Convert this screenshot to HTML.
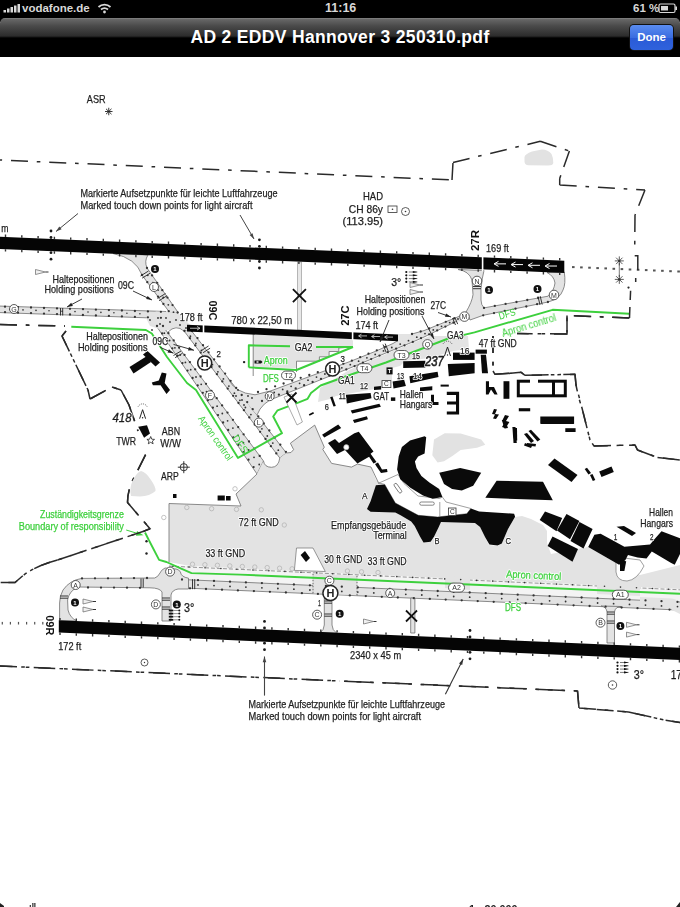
<!DOCTYPE html>
<html><head><meta charset="utf-8">
<style>
html,body{margin:0;padding:0;background:#fff;}
body{width:680px;height:907px;overflow:hidden;position:relative;font-family:"Liberation Sans",sans-serif;}
#status{position:absolute;left:0;top:0;width:680px;height:22px;background:#000;color:#d8d8d8;font-size:12.5px;font-weight:bold;}
#status svg{position:absolute;}
#nav{position:absolute;left:0;top:18px;width:680px;height:39px;background:linear-gradient(#858585 0px,#666 1.5px,#4a4a4a 8px,#2c2c2c 18px,#000 20px,#000 39px);border-radius:5px 5px 0 0;}
#title{position:absolute;left:0;top:-1px;width:680px;text-align:center;color:#fff;font-weight:bold;font-size:17.5px;letter-spacing:0.33px;line-height:40px;}
#done{position:absolute;left:630px;top:7px;width:43px;height:25px;border-radius:4px;background:linear-gradient(#5a8cf0,#3a6de0 50%,#2a5bd6 51%,#2f62dc);color:#fff;font-weight:bold;font-size:11.5px;line-height:25px;text-align:center;box-shadow:0 0 0 1px #111;}
#map{position:absolute;left:0;top:0;}
</style></head>
<body>
<svg id="map" width="680" height="907" viewBox="0 0 680 907" font-family="Liberation Sans, sans-serif">
<g fill="#e3e3e3" stroke="#6e6e6e" stroke-width="0.8">
<path d="M-2,306 L166,311.5 L166,318.5 L-2,312.5 Z"/>
<path d="M113,253.5 Q136,258 142,275 L170,313 L178.5,313 L147,268 Q144,261 148,255 Z"/>
<path d="M155.7,325 L162,325 L263.5,461 L257,474 Z"/>
<path d="M183.3,330 L190.8,330 L286.4,453 L279.8,458 Z"/>
<path d="M458,269.5 Q469,271 472,280 L473,294.7 Q472,302 466,312 L470,320 L483.2,315.3 L548,302 Q560,299 563,290 Q566,284 564.3,272 L547,272.5 Q554,276 555,283 Q554,291 548,296.2 L484,307.9 Q481,305 481,300 L481,288.8 Q482,278 484,270.5 Z"/>
</g>
<path d="M226,378 Q234,393 255,394.8 L271,390.8 L350,361.5 L375,351.5 L393,343.5 L398,340.5 L398,334 L412,334 L424,330.6 L460,316 L466,321 L456,321.5 L424,337 L415,341 L393,350 L350,368 L276,397.6 Q262,402 257,415 Z" fill="#e3e3e3"/>
<path d="M228,378 Q234,393 255,394.8 L271,390.8 L350,361.5 L375,351.5 L393,343.5 L398,340.5 M412,334 L424,330.6 L460,316 M257,415 Q262,402 276,397.6 L350,368 L393,350 L415,341 L424,337 L456,321.5" fill="none" stroke="#6e6e6e" stroke-width="0.8"/>
<path d="M146.0,318.0 L156.0,311.5 L178.0,312.5 L187.0,322.0 L197.0,331.0 L190.0,331.0 L182.0,329.0 L176.0,327.0 L170.0,330.0 L163.0,330.0 L150.0,326.0 Z" fill="#e3e3e3" />
<path d="M168,332 Q176,324 184,331" fill="none" stroke="#6e6e6e" stroke-width="0.8"/>
<path d="M253.0,333.5 L353.0,338.0 L353.0,347.0 L338.8,348.0 L338.8,351.5 L329.1,351.5 L329.1,356.8 L319.4,356.8 L319.4,361.2 L296.5,361.2 L296.5,368.0 L253.0,367.4 Z" fill="#e3e3e3" />
<path d="M253.2,334.0 L253.2,376.0" fill="none" stroke="#6e6e6e" stroke-width="0.8" />
<path d="M353.0,347.0 L338.8,348.0 L338.8,351.5 L329.1,351.5 L329.1,356.8 L319.4,356.8 L319.4,361.2 L296.5,361.2 L296.5,372.0" fill="none" stroke="#6e6e6e" stroke-width="0.8" />
<path d="M318.0,402.0 L320.0,388.0 L350.0,369.5 L393.0,351.0 L415.0,342.0 L430.0,336.0 L468.0,336.0 L469.0,349.0 L453.0,351.0 L430.0,358.0 L405.0,361.0 L400.0,366.0 L392.0,368.0 L392.0,380.0 L380.0,388.0 L347.0,394.0 L336.0,396.0 L330.0,399.0 Z" fill="#e3e3e3" />
<path d="M169.0,503.5 L241.0,506.0 L236.0,494.0 L257.0,474.0 L263.5,461.0 L264.5,464.0 L267.0,466.3 L271.5,467.3 L276.0,466.3 L278.8,463.5 L279.8,458.0 L286.4,453.0 L291.0,452.5 L293.6,449.6 L290.4,443.2 L314.7,425.1 L324.3,447.2 L322.8,449.4 L331.6,463.4 L351.5,467.1 L357.4,464.1 L371.0,467.0 L376.0,480.0 L385.0,486.0 L395.0,505.0 L418.0,517.0 L437.0,519.0 L466.0,516.0 L472.0,512.0 L480.0,514.0 L514.0,516.0 L485.0,537.0 L489.0,545.0 L498.0,546.0 L502.0,543.0 L508.0,529.0 L515.0,517.0 L522.0,516.0 L531.0,519.0 L543.0,525.0 L547.0,531.0 L547.0,543.0 L551.0,554.0 L588.0,547.0 L620.0,565.0 L640.0,575.0 L680.0,565.0 L680.0,589.0 L540.0,582.5 L420.0,577.0 L280.0,570.4 L190.0,566.0 L169.0,562.0 Z" fill="#e3e3e3" />
<path d="M169.0,562.0 L169.0,503.5 L241.0,506.0 L236.0,494.0 L257.0,474.0" fill="none" stroke="#6e6e6e" stroke-width="0.8" />
<path d="M263.5,461 Q264.5,467.3 271.5,467.3 Q278.5,467.3 279.8,458" fill="none" stroke="#6e6e6e" stroke-width="0.8"/>
<path d="M286.4,453.0 L291.0,452.5 L293.6,449.6 L290.4,443.2 L314.7,425.1 L324.3,447.2 L322.8,449.4 L331.6,463.4 L351.5,467.1 L357.4,464.1 L371.0,467.0 L379.0,484.0" fill="none" stroke="#6e6e6e" stroke-width="0.8" />
<path d="M169.0,565.1 L680.0,589.8 L680.0,602.0 L169.0,578.9 Z" fill="#f4f4f4" />
<path d="M169.0,566.1 L680.0,589.8" fill="none" stroke="#6e6e6e" stroke-width="0.7" stroke-dasharray="4,2"/>
<path d="M182.0,579.5 L680.0,602.0 L680.0,610.1 L182.0,587.9 Z" fill="#e3e3e3" />
<path d="M182.0,579.5 L680.0,602.0" fill="none" stroke="#6e6e6e" stroke-width="0.8" />
<path d="M182.0,587.9 L680.0,610.1" fill="none" stroke="#6e6e6e" stroke-width="0.8" />
<path d="M188.5,578.2 Q181,577 180.4,572 Q179,569.4 176,569 L165,568 Q161,570 160,573 Q158,577 154.7,578 L82,578.4 Q70,580 63,590 Q59.6,596 59.6,603 L59.6,621 L77,621 Q70,618 68,610 L67.6,600 Q69,591 78,587 L150,587.8 Q160,588 162,592 L162,621 L171,621 L171,595 Q172,590 178,589 L188.5,589 Z" fill="#e3e3e3" stroke="#6e6e6e" stroke-width="0.8"/>
<path d="M318,592 Q323,593 324.3,597 L324.3,625 Q324,630 320,633 L337,633.5 Q332,630 332,625 L332,597 Q333,593 338,592 Z" fill="#e3e3e3" stroke="#6e6e6e" stroke-width="0.8"/>
<path d="M313.0,573.8 L357.0,575.8 L357.0,595.2 L313.0,593.2 Z" fill="#e3e3e3" />
<path d="M313.0,573.8 L313.0,593.7" fill="none" stroke="#444" stroke-width="0.8" stroke-dasharray="1.5,1.5"/>
<path d="M357.0,575.8 L357.0,595.7" fill="none" stroke="#444" stroke-width="0.8" stroke-dasharray="1.5,1.5"/>
<path d="M410.7,598.0 L414.9,598.0 L414.9,633.0 L410.7,633.0 Z" fill="#e3e3e3" stroke="#6e6e6e" stroke-width="0.8"/>
<path d="M601,606 Q606.5,607 607,612 L607,643 L614.5,643 L614.5,612 Q615,607 621,606.5 Z" fill="#e3e3e3" stroke="#6e6e6e" stroke-width="0.8"/>
<path d="M597.0,580.0 L640.0,582.0 L640.0,596.0 L597.0,594.0 Z" fill="#e3e3e3" />
<path d="M445.0,576.0 L470.0,578.0 L470.0,590.0 L445.0,588.0 Z" fill="#e3e3e3" />
<path d="M640,597 L672,598.5 Q680,600 680,606 L680,614 L672,610 Q670,606 665,606 L640,605 Z" fill="#e3e3e3"/>
<g><circle cx="5.0" cy="306.7" r="1.15" fill="#333"/><circle cx="18.0" cy="307.1" r="1.15" fill="#333"/><circle cx="31.0" cy="307.5" r="1.15" fill="#333"/><circle cx="44.0" cy="308.0" r="1.15" fill="#333"/><circle cx="57.0" cy="308.4" r="1.15" fill="#333"/><circle cx="70.0" cy="308.8" r="1.15" fill="#333"/><circle cx="83.0" cy="309.2" r="1.15" fill="#333"/><circle cx="95.9" cy="309.7" r="1.15" fill="#333"/><circle cx="108.9" cy="310.1" r="1.15" fill="#333"/><circle cx="121.9" cy="310.5" r="1.15" fill="#333"/><circle cx="134.9" cy="311.0" r="1.15" fill="#333"/><circle cx="147.9" cy="311.4" r="1.15" fill="#333"/><circle cx="160.9" cy="311.8" r="1.15" fill="#333"/><circle cx="5.0" cy="312.2" r="1.15" fill="#333"/><circle cx="18.0" cy="312.7" r="1.15" fill="#333"/><circle cx="31.0" cy="313.1" r="1.15" fill="#333"/><circle cx="44.0" cy="313.6" r="1.15" fill="#333"/><circle cx="57.0" cy="314.1" r="1.15" fill="#333"/><circle cx="70.0" cy="314.5" r="1.15" fill="#333"/><circle cx="82.9" cy="315.0" r="1.15" fill="#333"/><circle cx="95.9" cy="315.5" r="1.15" fill="#333"/><circle cx="108.9" cy="315.9" r="1.15" fill="#333"/><circle cx="121.9" cy="316.4" r="1.15" fill="#333"/><circle cx="134.9" cy="316.9" r="1.15" fill="#333"/><circle cx="147.9" cy="317.3" r="1.15" fill="#333"/><circle cx="160.9" cy="317.8" r="1.15" fill="#333"/><circle cx="10.0" cy="309.5" r="0.8" fill="#333"/><circle cx="23.0" cy="309.9" r="0.8" fill="#333"/><circle cx="36.0" cy="310.4" r="0.8" fill="#333"/><circle cx="49.0" cy="310.8" r="0.8" fill="#333"/><circle cx="62.0" cy="311.2" r="0.8" fill="#333"/><circle cx="75.0" cy="311.6" r="0.8" fill="#333"/><circle cx="88.0" cy="312.0" r="0.8" fill="#333"/><circle cx="100.9" cy="312.4" r="0.8" fill="#333"/><circle cx="113.9" cy="312.8" r="0.8" fill="#333"/><circle cx="126.9" cy="313.3" r="0.8" fill="#333"/><circle cx="139.9" cy="313.7" r="0.8" fill="#333"/><circle cx="142.0" cy="275.0" r="1.15" fill="#333"/><circle cx="147.3" cy="282.2" r="1.15" fill="#333"/><circle cx="152.7" cy="289.5" r="1.15" fill="#333"/><circle cx="158.0" cy="296.7" r="1.15" fill="#333"/><circle cx="163.4" cy="304.0" r="1.15" fill="#333"/><circle cx="168.7" cy="311.2" r="1.15" fill="#333"/><circle cx="147.0" cy="268.0" r="1.15" fill="#333"/><circle cx="152.1" cy="275.4" r="1.15" fill="#333"/><circle cx="157.2" cy="282.8" r="1.15" fill="#333"/><circle cx="162.3" cy="290.2" r="1.15" fill="#333"/><circle cx="167.4" cy="297.6" r="1.15" fill="#333"/><circle cx="172.5" cy="305.1" r="1.15" fill="#333"/><circle cx="177.6" cy="312.5" r="1.15" fill="#333"/><circle cx="157.0" cy="326.0" r="1.15" fill="#333"/><circle cx="162.1" cy="333.4" r="1.15" fill="#333"/><circle cx="167.2" cy="340.9" r="1.15" fill="#333"/><circle cx="172.3" cy="348.3" r="1.15" fill="#333"/><circle cx="177.3" cy="355.7" r="1.15" fill="#333"/><circle cx="182.4" cy="363.1" r="1.15" fill="#333"/><circle cx="187.5" cy="370.6" r="1.15" fill="#333"/><circle cx="192.6" cy="378.0" r="1.15" fill="#333"/><circle cx="197.7" cy="385.4" r="1.15" fill="#333"/><circle cx="202.8" cy="392.8" r="1.15" fill="#333"/><circle cx="207.9" cy="400.3" r="1.15" fill="#333"/><circle cx="212.9" cy="407.7" r="1.15" fill="#333"/><circle cx="218.0" cy="415.1" r="1.15" fill="#333"/><circle cx="223.1" cy="422.5" r="1.15" fill="#333"/><circle cx="228.2" cy="430.0" r="1.15" fill="#333"/><circle cx="233.3" cy="437.4" r="1.15" fill="#333"/><circle cx="238.4" cy="444.8" r="1.15" fill="#333"/><circle cx="243.5" cy="452.2" r="1.15" fill="#333"/><circle cx="248.5" cy="459.7" r="1.15" fill="#333"/><circle cx="253.6" cy="467.1" r="1.15" fill="#333"/><circle cx="163.0" cy="326.0" r="1.15" fill="#333"/><circle cx="168.4" cy="333.2" r="1.15" fill="#333"/><circle cx="173.7" cy="340.4" r="1.15" fill="#333"/><circle cx="179.1" cy="347.7" r="1.15" fill="#333"/><circle cx="184.5" cy="354.9" r="1.15" fill="#333"/><circle cx="189.9" cy="362.1" r="1.15" fill="#333"/><circle cx="195.2" cy="369.3" r="1.15" fill="#333"/><circle cx="200.6" cy="376.5" r="1.15" fill="#333"/><circle cx="206.0" cy="383.8" r="1.15" fill="#333"/><circle cx="211.4" cy="391.0" r="1.15" fill="#333"/><circle cx="216.7" cy="398.2" r="1.15" fill="#333"/><circle cx="222.1" cy="405.4" r="1.15" fill="#333"/><circle cx="227.5" cy="412.6" r="1.15" fill="#333"/><circle cx="232.9" cy="419.8" r="1.15" fill="#333"/><circle cx="238.2" cy="427.1" r="1.15" fill="#333"/><circle cx="243.6" cy="434.3" r="1.15" fill="#333"/><circle cx="249.0" cy="441.5" r="1.15" fill="#333"/><circle cx="254.4" cy="448.7" r="1.15" fill="#333"/><circle cx="259.7" cy="455.9" r="1.15" fill="#333"/><circle cx="184.5" cy="331.0" r="1.15" fill="#333"/><circle cx="189.9" cy="338.2" r="1.15" fill="#333"/><circle cx="195.3" cy="345.4" r="1.15" fill="#333"/><circle cx="200.7" cy="352.6" r="1.15" fill="#333"/><circle cx="206.1" cy="359.8" r="1.15" fill="#333"/><circle cx="211.5" cy="367.0" r="1.15" fill="#333"/><circle cx="216.9" cy="374.2" r="1.15" fill="#333"/><circle cx="222.3" cy="381.4" r="1.15" fill="#333"/><circle cx="227.7" cy="388.6" r="1.15" fill="#333"/><circle cx="233.1" cy="395.8" r="1.15" fill="#333"/><circle cx="238.5" cy="403.0" r="1.15" fill="#333"/><circle cx="243.9" cy="410.2" r="1.15" fill="#333"/><circle cx="249.3" cy="417.4" r="1.15" fill="#333"/><circle cx="254.7" cy="424.6" r="1.15" fill="#333"/><circle cx="260.1" cy="431.8" r="1.15" fill="#333"/><circle cx="265.5" cy="439.0" r="1.15" fill="#333"/><circle cx="270.9" cy="446.2" r="1.15" fill="#333"/><circle cx="276.3" cy="453.4" r="1.15" fill="#333"/><circle cx="192.0" cy="331.0" r="1.15" fill="#333"/><circle cx="197.5" cy="338.1" r="1.15" fill="#333"/><circle cx="203.0" cy="345.2" r="1.15" fill="#333"/><circle cx="208.6" cy="352.3" r="1.15" fill="#333"/><circle cx="214.1" cy="359.4" r="1.15" fill="#333"/><circle cx="219.6" cy="366.5" r="1.15" fill="#333"/><circle cx="225.1" cy="373.6" r="1.15" fill="#333"/><circle cx="230.6" cy="380.8" r="1.15" fill="#333"/><circle cx="236.2" cy="387.9" r="1.15" fill="#333"/><circle cx="241.7" cy="395.0" r="1.15" fill="#333"/><circle cx="247.2" cy="402.1" r="1.15" fill="#333"/><circle cx="252.7" cy="409.2" r="1.15" fill="#333"/><circle cx="258.3" cy="416.3" r="1.15" fill="#333"/><circle cx="263.8" cy="423.4" r="1.15" fill="#333"/><circle cx="269.3" cy="430.5" r="1.15" fill="#333"/><circle cx="274.8" cy="437.6" r="1.15" fill="#333"/><circle cx="280.3" cy="444.7" r="1.15" fill="#333"/><circle cx="285.9" cy="451.8" r="1.15" fill="#333"/><circle cx="258.0" cy="392.0" r="1.15" fill="#333"/><circle cx="266.5" cy="389.2" r="1.15" fill="#333"/><circle cx="275.1" cy="386.3" r="1.15" fill="#333"/><circle cx="283.6" cy="383.5" r="1.15" fill="#333"/><circle cx="292.2" cy="380.7" r="1.15" fill="#333"/><circle cx="300.7" cy="377.8" r="1.15" fill="#333"/><circle cx="309.3" cy="375.0" r="1.15" fill="#333"/><circle cx="317.8" cy="372.2" r="1.15" fill="#333"/><circle cx="326.3" cy="369.3" r="1.15" fill="#333"/><circle cx="334.9" cy="366.5" r="1.15" fill="#333"/><circle cx="343.4" cy="363.7" r="1.15" fill="#333"/><circle cx="351.9" cy="360.7" r="1.15" fill="#333"/><circle cx="360.2" cy="357.2" r="1.15" fill="#333"/><circle cx="368.5" cy="353.7" r="1.15" fill="#333"/><circle cx="376.8" cy="350.3" r="1.15" fill="#333"/><circle cx="385.1" cy="346.8" r="1.15" fill="#333"/><circle cx="412.0" cy="334.0" r="1.15" fill="#333"/><circle cx="420.7" cy="331.5" r="1.15" fill="#333"/><circle cx="429.1" cy="328.5" r="1.15" fill="#333"/><circle cx="437.5" cy="325.1" r="1.15" fill="#333"/><circle cx="445.8" cy="321.8" r="1.15" fill="#333"/><circle cx="454.1" cy="318.4" r="1.15" fill="#333"/><circle cx="262.0" cy="401.0" r="1.15" fill="#333"/><circle cx="270.4" cy="397.8" r="1.15" fill="#333"/><circle cx="278.9" cy="394.7" r="1.15" fill="#333"/><circle cx="287.3" cy="391.5" r="1.15" fill="#333"/><circle cx="295.7" cy="388.4" r="1.15" fill="#333"/><circle cx="304.1" cy="385.2" r="1.15" fill="#333"/><circle cx="312.6" cy="382.0" r="1.15" fill="#333"/><circle cx="321.0" cy="378.9" r="1.15" fill="#333"/><circle cx="329.4" cy="375.7" r="1.15" fill="#333"/><circle cx="337.8" cy="372.6" r="1.15" fill="#333"/><circle cx="346.3" cy="369.4" r="1.15" fill="#333"/><circle cx="354.6" cy="366.1" r="1.15" fill="#333"/><circle cx="362.9" cy="362.6" r="1.15" fill="#333"/><circle cx="371.2" cy="359.1" r="1.15" fill="#333"/><circle cx="379.5" cy="355.6" r="1.15" fill="#333"/><circle cx="387.8" cy="352.2" r="1.15" fill="#333"/><circle cx="396.1" cy="348.7" r="1.15" fill="#333"/><circle cx="404.5" cy="345.3" r="1.15" fill="#333"/><circle cx="412.8" cy="341.9" r="1.15" fill="#333"/><circle cx="421.0" cy="338.2" r="1.15" fill="#333"/><circle cx="429.1" cy="334.3" r="1.15" fill="#333"/><circle cx="437.2" cy="330.4" r="1.15" fill="#333"/><circle cx="445.4" cy="326.6" r="1.15" fill="#333"/><circle cx="453.5" cy="322.7" r="1.15" fill="#333"/><circle cx="484.0" cy="307.9" r="1.15" fill="#333"/><circle cx="494.8" cy="305.9" r="1.15" fill="#333"/><circle cx="505.6" cy="303.9" r="1.15" fill="#333"/><circle cx="516.5" cy="302.0" r="1.15" fill="#333"/><circle cx="527.3" cy="300.0" r="1.15" fill="#333"/><circle cx="538.1" cy="298.0" r="1.15" fill="#333"/><circle cx="483.2" cy="315.3" r="1.15" fill="#333"/><circle cx="494.0" cy="313.1" r="1.15" fill="#333"/><circle cx="504.8" cy="310.9" r="1.15" fill="#333"/><circle cx="515.5" cy="308.7" r="1.15" fill="#333"/><circle cx="526.3" cy="306.5" r="1.15" fill="#333"/><circle cx="537.1" cy="304.2" r="1.15" fill="#333"/><circle cx="547.9" cy="302.0" r="1.15" fill="#333"/><circle cx="182.0" cy="579.5" r="1.15" fill="#333"/><circle cx="198.0" cy="580.2" r="1.15" fill="#333"/><circle cx="214.0" cy="580.9" r="1.15" fill="#333"/><circle cx="230.0" cy="581.7" r="1.15" fill="#333"/><circle cx="245.9" cy="582.4" r="1.15" fill="#333"/><circle cx="261.9" cy="583.1" r="1.15" fill="#333"/><circle cx="277.9" cy="583.8" r="1.15" fill="#333"/><circle cx="293.9" cy="584.5" r="1.15" fill="#333"/><circle cx="309.9" cy="585.3" r="1.15" fill="#333"/><circle cx="325.9" cy="586.0" r="1.15" fill="#333"/><circle cx="341.8" cy="586.7" r="1.15" fill="#333"/><circle cx="357.8" cy="587.4" r="1.15" fill="#333"/><circle cx="373.8" cy="588.2" r="1.15" fill="#333"/><circle cx="389.8" cy="588.9" r="1.15" fill="#333"/><circle cx="405.8" cy="589.6" r="1.15" fill="#333"/><circle cx="421.8" cy="590.3" r="1.15" fill="#333"/><circle cx="437.7" cy="591.0" r="1.15" fill="#333"/><circle cx="453.7" cy="591.8" r="1.15" fill="#333"/><circle cx="469.7" cy="592.5" r="1.15" fill="#333"/><circle cx="485.7" cy="593.2" r="1.15" fill="#333"/><circle cx="501.7" cy="593.9" r="1.15" fill="#333"/><circle cx="517.7" cy="594.7" r="1.15" fill="#333"/><circle cx="533.6" cy="595.4" r="1.15" fill="#333"/><circle cx="549.6" cy="596.1" r="1.15" fill="#333"/><circle cx="565.6" cy="596.8" r="1.15" fill="#333"/><circle cx="581.6" cy="597.5" r="1.15" fill="#333"/><circle cx="597.6" cy="598.3" r="1.15" fill="#333"/><circle cx="613.6" cy="599.0" r="1.15" fill="#333"/><circle cx="629.5" cy="599.7" r="1.15" fill="#333"/><circle cx="645.5" cy="600.4" r="1.15" fill="#333"/><circle cx="661.5" cy="601.2" r="1.15" fill="#333"/><circle cx="677.5" cy="601.9" r="1.15" fill="#333"/><circle cx="190.0" cy="588.3" r="1.15" fill="#333"/><circle cx="206.0" cy="589.0" r="1.15" fill="#333"/><circle cx="222.0" cy="589.7" r="1.15" fill="#333"/><circle cx="237.9" cy="590.4" r="1.15" fill="#333"/><circle cx="253.9" cy="591.1" r="1.15" fill="#333"/><circle cx="269.9" cy="591.8" r="1.15" fill="#333"/><circle cx="285.9" cy="592.5" r="1.15" fill="#333"/><circle cx="301.9" cy="593.2" r="1.15" fill="#333"/><circle cx="317.9" cy="593.9" r="1.15" fill="#333"/><circle cx="333.8" cy="594.7" r="1.15" fill="#333"/><circle cx="349.8" cy="595.4" r="1.15" fill="#333"/><circle cx="365.8" cy="596.1" r="1.15" fill="#333"/><circle cx="381.8" cy="596.8" r="1.15" fill="#333"/><circle cx="397.8" cy="597.5" r="1.15" fill="#333"/><circle cx="413.8" cy="598.2" r="1.15" fill="#333"/><circle cx="429.8" cy="598.9" r="1.15" fill="#333"/><circle cx="445.7" cy="599.6" r="1.15" fill="#333"/><circle cx="461.7" cy="600.3" r="1.15" fill="#333"/><circle cx="477.7" cy="601.1" r="1.15" fill="#333"/><circle cx="493.7" cy="601.8" r="1.15" fill="#333"/><circle cx="509.7" cy="602.5" r="1.15" fill="#333"/><circle cx="525.7" cy="603.2" r="1.15" fill="#333"/><circle cx="541.6" cy="603.9" r="1.15" fill="#333"/><circle cx="557.6" cy="604.6" r="1.15" fill="#333"/><circle cx="573.6" cy="605.3" r="1.15" fill="#333"/><circle cx="589.6" cy="606.0" r="1.15" fill="#333"/><circle cx="605.6" cy="606.7" r="1.15" fill="#333"/><circle cx="621.6" cy="607.5" r="1.15" fill="#333"/><circle cx="637.5" cy="608.2" r="1.15" fill="#333"/><circle cx="653.5" cy="608.9" r="1.15" fill="#333"/><circle cx="669.5" cy="609.6" r="1.15" fill="#333"/><circle cx="82.0" cy="578.4" r="1.15" fill="#333"/><circle cx="95.0" cy="578.3" r="1.15" fill="#333"/><circle cx="108.0" cy="578.3" r="1.15" fill="#333"/><circle cx="121.0" cy="578.2" r="1.15" fill="#333"/><circle cx="134.0" cy="578.1" r="1.15" fill="#333"/><circle cx="147.0" cy="578.0" r="1.15" fill="#333"/><circle cx="88.0" cy="587.5" r="1.15" fill="#333"/><circle cx="101.0" cy="587.6" r="1.15" fill="#333"/><circle cx="114.0" cy="587.6" r="1.15" fill="#333"/><circle cx="127.0" cy="587.7" r="1.15" fill="#333"/><circle cx="140.0" cy="587.8" r="1.15" fill="#333"/><circle cx="173.0" cy="566.2" r="0.8" fill="#333"/><circle cx="189.0" cy="567.0" r="0.8" fill="#333"/><circle cx="205.0" cy="567.7" r="0.8" fill="#333"/><circle cx="220.9" cy="568.5" r="0.8" fill="#333"/><circle cx="236.9" cy="569.2" r="0.8" fill="#333"/><circle cx="252.9" cy="570.0" r="0.8" fill="#333"/><circle cx="268.9" cy="570.7" r="0.8" fill="#333"/><circle cx="284.9" cy="571.4" r="0.8" fill="#333"/><circle cx="300.9" cy="572.2" r="0.8" fill="#333"/><circle cx="316.8" cy="572.9" r="0.8" fill="#333"/><circle cx="332.8" cy="573.7" r="0.8" fill="#333"/><circle cx="348.8" cy="574.4" r="0.8" fill="#333"/><circle cx="364.8" cy="575.2" r="0.8" fill="#333"/><circle cx="380.8" cy="575.9" r="0.8" fill="#333"/><circle cx="396.8" cy="576.6" r="0.8" fill="#333"/><circle cx="412.7" cy="577.4" r="0.8" fill="#333"/><circle cx="428.7" cy="578.1" r="0.8" fill="#333"/><circle cx="444.7" cy="578.9" r="0.8" fill="#333"/><circle cx="460.7" cy="579.6" r="0.8" fill="#333"/><circle cx="476.7" cy="580.4" r="0.8" fill="#333"/><circle cx="492.7" cy="581.1" r="0.8" fill="#333"/><circle cx="508.6" cy="581.9" r="0.8" fill="#333"/><circle cx="524.6" cy="582.6" r="0.8" fill="#333"/><circle cx="540.6" cy="583.3" r="0.8" fill="#333"/><circle cx="556.6" cy="584.1" r="0.8" fill="#333"/><circle cx="572.6" cy="584.8" r="0.8" fill="#333"/><circle cx="588.5" cy="585.6" r="0.8" fill="#333"/><circle cx="604.5" cy="586.3" r="0.8" fill="#333"/><circle cx="620.5" cy="587.1" r="0.8" fill="#333"/><circle cx="636.5" cy="587.8" r="0.8" fill="#333"/><circle cx="652.5" cy="588.5" r="0.8" fill="#333"/><circle cx="668.5" cy="589.3" r="0.8" fill="#333"/><circle cx="147.8" cy="275.3" r="0.9" fill="#333"/><circle cx="152.9" cy="282.7" r="0.9" fill="#333"/><circle cx="158.1" cy="290.1" r="0.9" fill="#333"/><circle cx="163.2" cy="297.5" r="0.9" fill="#333"/><circle cx="168.3" cy="304.8" r="0.9" fill="#333"/><circle cx="173.5" cy="312.2" r="0.9" fill="#333"/><circle cx="164.3" cy="333.2" r="0.9" fill="#333"/><circle cx="169.6" cy="340.5" r="0.9" fill="#333"/><circle cx="174.9" cy="347.8" r="0.9" fill="#333"/><circle cx="180.2" cy="355.1" r="0.9" fill="#333"/><circle cx="185.4" cy="362.4" r="0.9" fill="#333"/><circle cx="190.7" cy="369.7" r="0.9" fill="#333"/><circle cx="196.0" cy="377.0" r="0.9" fill="#333"/><circle cx="201.2" cy="384.3" r="0.9" fill="#333"/><circle cx="206.5" cy="391.6" r="0.9" fill="#333"/><circle cx="211.8" cy="398.9" r="0.9" fill="#333"/><circle cx="217.1" cy="406.2" r="0.9" fill="#333"/><circle cx="222.3" cy="413.5" r="0.9" fill="#333"/><circle cx="227.6" cy="420.8" r="0.9" fill="#333"/><circle cx="232.9" cy="428.1" r="0.9" fill="#333"/><circle cx="238.1" cy="435.4" r="0.9" fill="#333"/><circle cx="243.4" cy="442.7" r="0.9" fill="#333"/><circle cx="248.7" cy="450.0" r="0.9" fill="#333"/><circle cx="254.0" cy="457.3" r="0.9" fill="#333"/><circle cx="259.2" cy="464.5" r="0.9" fill="#333"/><circle cx="190.4" cy="336.2" r="0.9" fill="#333"/><circle cx="195.9" cy="343.3" r="0.9" fill="#333"/><circle cx="201.4" cy="350.4" r="0.9" fill="#333"/><circle cx="206.9" cy="357.6" r="0.9" fill="#333"/><circle cx="212.4" cy="364.7" r="0.9" fill="#333"/><circle cx="217.9" cy="371.8" r="0.9" fill="#333"/><circle cx="223.4" cy="378.9" r="0.9" fill="#333"/><circle cx="228.9" cy="386.1" r="0.9" fill="#333"/><circle cx="234.4" cy="393.2" r="0.9" fill="#333"/><circle cx="239.9" cy="400.3" r="0.9" fill="#333"/><circle cx="245.4" cy="407.5" r="0.9" fill="#333"/><circle cx="250.9" cy="414.6" r="0.9" fill="#333"/><circle cx="256.4" cy="421.7" r="0.9" fill="#333"/><circle cx="261.9" cy="428.8" r="0.9" fill="#333"/><circle cx="267.3" cy="436.0" r="0.9" fill="#333"/><circle cx="272.8" cy="443.1" r="0.9" fill="#333"/><circle cx="278.3" cy="450.2" r="0.9" fill="#333"/><circle cx="265.8" cy="395.6" r="0.9" fill="#333"/><circle cx="274.2" cy="392.5" r="0.9" fill="#333"/><circle cx="282.7" cy="389.4" r="0.9" fill="#333"/><circle cx="291.1" cy="386.3" r="0.9" fill="#333"/><circle cx="299.6" cy="383.3" r="0.9" fill="#333"/><circle cx="308.0" cy="380.2" r="0.9" fill="#333"/><circle cx="316.5" cy="377.1" r="0.9" fill="#333"/><circle cx="324.9" cy="374.0" r="0.9" fill="#333"/><circle cx="333.4" cy="370.9" r="0.9" fill="#333"/><circle cx="341.8" cy="367.8" r="0.9" fill="#333"/><circle cx="350.3" cy="364.7" r="0.9" fill="#333"/><circle cx="358.6" cy="361.2" r="0.9" fill="#333"/><circle cx="366.9" cy="357.8" r="0.9" fill="#333"/><circle cx="375.2" cy="354.4" r="0.9" fill="#333"/><circle cx="383.5" cy="350.9" r="0.9" fill="#333"/><circle cx="391.8" cy="347.5" r="0.9" fill="#333"/><circle cx="400.2" cy="344.1" r="0.9" fill="#333"/><circle cx="408.5" cy="340.7" r="0.9" fill="#333"/><circle cx="416.8" cy="337.2" r="0.9" fill="#333"/><circle cx="425.0" cy="333.6" r="0.9" fill="#333"/><circle cx="433.3" cy="329.9" r="0.9" fill="#333"/><circle cx="441.5" cy="326.3" r="0.9" fill="#333"/><circle cx="449.7" cy="322.6" r="0.9" fill="#333"/><circle cx="458.0" cy="319.0" r="0.9" fill="#333"/><circle cx="198.0" cy="584.9" r="0.9" fill="#333"/><circle cx="214.0" cy="585.6" r="0.9" fill="#333"/><circle cx="230.0" cy="586.4" r="0.9" fill="#333"/><circle cx="245.9" cy="587.1" r="0.9" fill="#333"/><circle cx="261.9" cy="587.8" r="0.9" fill="#333"/><circle cx="277.9" cy="588.5" r="0.9" fill="#333"/><circle cx="293.9" cy="589.2" r="0.9" fill="#333"/><circle cx="309.9" cy="590.0" r="0.9" fill="#333"/><circle cx="325.9" cy="590.7" r="0.9" fill="#333"/><circle cx="341.8" cy="591.4" r="0.9" fill="#333"/><circle cx="357.8" cy="592.1" r="0.9" fill="#333"/><circle cx="373.8" cy="592.9" r="0.9" fill="#333"/><circle cx="389.8" cy="593.6" r="0.9" fill="#333"/><circle cx="405.8" cy="594.3" r="0.9" fill="#333"/><circle cx="421.8" cy="595.0" r="0.9" fill="#333"/><circle cx="437.7" cy="595.7" r="0.9" fill="#333"/><circle cx="453.7" cy="596.5" r="0.9" fill="#333"/><circle cx="469.7" cy="597.2" r="0.9" fill="#333"/><circle cx="485.7" cy="597.9" r="0.9" fill="#333"/><circle cx="501.7" cy="598.6" r="0.9" fill="#333"/><circle cx="517.7" cy="599.4" r="0.9" fill="#333"/><circle cx="533.6" cy="600.1" r="0.9" fill="#333"/><circle cx="549.6" cy="600.8" r="0.9" fill="#333"/><circle cx="565.6" cy="601.5" r="0.9" fill="#333"/><circle cx="581.6" cy="602.2" r="0.9" fill="#333"/><circle cx="597.6" cy="603.0" r="0.9" fill="#333"/><circle cx="613.6" cy="603.7" r="0.9" fill="#333"/><circle cx="629.5" cy="604.4" r="0.9" fill="#333"/><circle cx="645.5" cy="605.1" r="0.9" fill="#333"/><circle cx="661.5" cy="605.9" r="0.9" fill="#333"/><circle cx="677.5" cy="606.6" r="0.9" fill="#333"/><circle cx="150" cy="320" r="0.9" fill="#333"/><circle cx="158" cy="318" r="0.9" fill="#333"/><circle cx="166" cy="318" r="0.9" fill="#333"/><circle cx="170" cy="322" r="0.9" fill="#333"/><circle cx="176" cy="320" r="0.9" fill="#333"/><circle cx="180" cy="325" r="0.9" fill="#333"/><circle cx="160" cy="324" r="0.9" fill="#333"/><circle cx="186" cy="328" r="0.9" fill="#333"/><circle cx="152" cy="330" r="0.9" fill="#333"/><circle cx="236" cy="396" r="0.9" fill="#333"/><circle cx="242" cy="400" r="0.9" fill="#333"/><circle cx="248" cy="396" r="0.9" fill="#333"/><circle cx="244" cy="405" r="0.9" fill="#333"/><circle cx="252" cy="398" r="0.9" fill="#333"/><circle cx="238" cy="390" r="0.9" fill="#333"/></g>
<circle cx="192.5" cy="564.2" r="2.2" fill="none" stroke="#b5b5b5" stroke-width="0.8"/><circle cx="204.9" cy="564.7" r="2.2" fill="none" stroke="#b5b5b5" stroke-width="0.8"/><circle cx="217.4" cy="565.3" r="2.2" fill="none" stroke="#b5b5b5" stroke-width="0.8"/><circle cx="229.8" cy="565.9" r="2.2" fill="none" stroke="#b5b5b5" stroke-width="0.8"/><circle cx="242.3" cy="566.5" r="2.2" fill="none" stroke="#b5b5b5" stroke-width="0.8"/><circle cx="254.8" cy="567.0" r="2.2" fill="none" stroke="#b5b5b5" stroke-width="0.8"/><circle cx="267.2" cy="567.6" r="2.2" fill="none" stroke="#b5b5b5" stroke-width="0.8"/><circle cx="279.6" cy="568.2" r="2.2" fill="none" stroke="#b5b5b5" stroke-width="0.8"/><circle cx="292.1" cy="568.8" r="2.2" fill="none" stroke="#b5b5b5" stroke-width="0.8"/><circle cx="347.4" cy="571.0" r="2.2" fill="none" stroke="#b5b5b5" stroke-width="0.8"/><circle cx="361.5" cy="571.8" r="2.2" fill="none" stroke="#b5b5b5" stroke-width="0.8"/><circle cx="378.0" cy="572.5" r="2.2" fill="none" stroke="#b5b5b5" stroke-width="0.8"/><circle cx="186.8" cy="507.5" r="2.2" fill="none" stroke="#b5b5b5" stroke-width="0.8"/><circle cx="211.6" cy="508.7" r="2.2" fill="none" stroke="#b5b5b5" stroke-width="0.8"/><circle cx="236.5" cy="509.4" r="2.2" fill="none" stroke="#b5b5b5" stroke-width="0.8"/><circle cx="261.3" cy="509.8" r="2.2" fill="none" stroke="#b5b5b5" stroke-width="0.8"/><circle cx="284.3" cy="525.0" r="2.2" fill="none" stroke="#b5b5b5" stroke-width="0.8"/><circle cx="235.0" cy="488.8" r="2.2" fill="none" stroke="#b5b5b5" stroke-width="0.8"/><circle cx="163.8" cy="517.5" r="2.2" fill="none" stroke="#b5b5b5" stroke-width="0.8"/>
<g fill="none" stroke="#3dd03d" stroke-width="1.9" stroke-linejoin="round">
<path d="M71.3,326.8 L145.9,330.0 L151.8,333.5 L167.0,357.0 L187.0,383.0 L196.0,390.0 L238.0,457.9 L282.0,433.2 L273.2,416.5 L277.6,410.3 L298.8,402.4 L307.6,398.8 L311.0,393.0 L320.6,385.5 L354.0,373.5 L386.0,362.5 L447.0,339.0 L474.5,332.3 L552.6,309.8 L629.3,313.8" fill="none" stroke="#3dd03d" stroke-width="1.9" />
<path d="M248.8,367.4 L248.8,345.3 L290.0,346.3" fill="none" stroke="#3dd03d" stroke-width="1.9" />
<path d="M316.0,347.0 L353.0,347.0" fill="none" stroke="#3dd03d" stroke-width="1.9" />
<path d="M353.0,347.0 L296.5,370.0 L248.8,367.4" fill="none" stroke="#3dd03d" stroke-width="1.9" />
<path d="M148.8,540.0 L159.1,559.9 L166.5,562.0 L181.2,568.7 L191.5,573.1 L240.0,574.6 L680.0,593.7" fill="none" stroke="#3dd03d" stroke-width="1.9" />
<path d="M145.0,532.5 L148.8,540.0" fill="none" stroke="#3dd03d" stroke-width="1.9" />
</g>
<path d="M126.2,530 L141,534.5" stroke="#3dd03d" stroke-width="1"/><path d="M143.5,535.3 L137,531 L136,535.8 Z" fill="#3dd03d"/>
<path d="M297.5,262.0 L301.5,262.0 L301.5,330.0 L297.5,330.0 Z" fill="#e8e8e8" stroke="#999" stroke-width="0.7"/>
<path d="M-2.0,236.7 L564.3,260.7 L564.3,272.9 L-2.0,248.9 Z" fill="#050505" />
<path d="M58.8,620.2 L682.0,647.9 L682.0,660.2 L58.8,632.5 Z" fill="#050505" />
<path d="M187.0,324.7 L398.0,334.4 L398.0,341.2 L187.0,331.5 Z" fill="#050505" />
<path d="M482.6,255.3 L482.6,271.3" fill="none" stroke="#fff" stroke-width="1.6" />
<path d="M203.5,324.5 L203.5,333.5" fill="none" stroke="#fff" stroke-width="1.6" />
<path d="M352.6,331.3 L352.6,340.3" fill="none" stroke="#fff" stroke-width="1.6" />
<path d="M5.5,234.6 v2.4 M5.5,249.2 v2.4 M21.8,235.3 v2.4 M21.8,249.9 v2.4 M38.1,236.0 v2.4 M38.1,250.6 v2.4 M54.4,236.7 v2.4 M54.4,251.3 v2.4 M70.7,237.4 v2.4 M70.7,252.0 v2.4 M87.0,238.1 v2.4 M87.0,252.7 v2.4 M103.3,238.8 v2.4 M103.3,253.4 v2.4 M119.6,239.5 v2.4 M119.6,254.1 v2.4 M135.9,240.2 v2.4 M135.9,254.8 v2.4 M152.2,240.9 v2.4 M152.2,255.5 v2.4 M168.5,241.5 v2.4 M168.5,256.1 v2.4 M184.8,242.2 v2.4 M184.8,256.8 v2.4 M201.1,242.9 v2.4 M201.1,257.5 v2.4 M217.4,243.6 v2.4 M217.4,258.2 v2.4 M233.7,244.3 v2.4 M233.7,258.9 v2.4 M250.0,245.0 v2.4 M250.0,259.6 v2.4 M266.3,245.7 v2.4 M266.3,260.3 v2.4 M282.6,246.4 v2.4 M282.6,261.0 v2.4 M298.9,247.1 v2.4 M298.9,261.7 v2.4 M315.2,247.8 v2.4 M315.2,262.4 v2.4 M331.5,248.5 v2.4 M331.5,263.1 v2.4 M347.8,249.1 v2.4 M347.8,263.7 v2.4 M364.1,249.8 v2.4 M364.1,264.4 v2.4 M380.4,250.5 v2.4 M380.4,265.1 v2.4 M396.7,251.2 v2.4 M396.7,265.8 v2.4 M413.0,251.9 v2.4 M413.0,266.5 v2.4 M429.3,252.6 v2.4 M429.3,267.2 v2.4 M445.6,253.3 v2.4 M445.6,267.9 v2.4 M461.9,254.0 v2.4 M461.9,268.6 v2.4 M478.2,254.7 v2.4 M478.2,269.3 v2.4 M494.5,255.4 v2.4 M494.5,270.0 v2.4 M510.8,256.1 v2.4 M510.8,270.7 v2.4 M527.1,256.7 v2.4 M527.1,271.3 v2.4 M543.4,257.4 v2.4 M543.4,272.0 v2.4 M559.7,258.1 v2.4 M559.7,272.7 v2.4 M60.0,617.9 v2.4 M60.0,632.6 v2.4 M76.3,618.6 v2.4 M76.3,633.3 v2.4 M92.6,619.3 v2.4 M92.6,634.0 v2.4 M108.9,620.0 v2.4 M108.9,634.7 v2.4 M125.2,620.8 v2.4 M125.2,635.5 v2.4 M141.5,621.5 v2.4 M141.5,636.2 v2.4 M157.8,622.2 v2.4 M157.8,636.9 v2.4 M174.1,622.9 v2.4 M174.1,637.6 v2.4 M190.4,623.7 v2.4 M190.4,638.4 v2.4 M206.7,624.4 v2.4 M206.7,639.1 v2.4 M223.0,625.1 v2.4 M223.0,639.8 v2.4 M239.3,625.8 v2.4 M239.3,640.5 v2.4 M255.6,626.6 v2.4 M255.6,641.3 v2.4 M271.9,627.3 v2.4 M271.9,642.0 v2.4 M288.2,628.0 v2.4 M288.2,642.7 v2.4 M304.5,628.7 v2.4 M304.5,643.4 v2.4 M320.8,629.5 v2.4 M320.8,644.2 v2.4 M337.1,630.2 v2.4 M337.1,644.9 v2.4 M353.4,630.9 v2.4 M353.4,645.6 v2.4 M369.7,631.6 v2.4 M369.7,646.3 v2.4 M386.0,632.4 v2.4 M386.0,647.1 v2.4 M402.3,633.1 v2.4 M402.3,647.8 v2.4 M418.6,633.8 v2.4 M418.6,648.5 v2.4 M434.9,634.5 v2.4 M434.9,649.2 v2.4 M451.2,635.3 v2.4 M451.2,650.0 v2.4 M467.5,636.0 v2.4 M467.5,650.7 v2.4 M483.8,636.7 v2.4 M483.8,651.4 v2.4 M500.1,637.4 v2.4 M500.1,652.1 v2.4 M516.4,638.2 v2.4 M516.4,652.9 v2.4 M532.7,638.9 v2.4 M532.7,653.6 v2.4 M549.0,639.6 v2.4 M549.0,654.3 v2.4 M565.3,640.3 v2.4 M565.3,655.0 v2.4 M581.6,641.1 v2.4 M581.6,655.8 v2.4 M597.9,641.8 v2.4 M597.9,656.5 v2.4 M614.2,642.5 v2.4 M614.2,657.2 v2.4 M630.5,643.2 v2.4 M630.5,657.9 v2.4 M646.8,644.0 v2.4 M646.8,658.7 v2.4 M663.1,644.7 v2.4 M663.1,659.4 v2.4 M679.4,645.4 v2.4 M679.4,660.1 v2.4" stroke="#333" stroke-width="1.4"/>
<circle cx="51.0" cy="231.0" r="1.4" fill="#1a1a1a"/><circle cx="51.0" cy="237.5" r="1.4" fill="#1a1a1a"/><circle cx="51.0" cy="252.7" r="1.4" fill="#1a1a1a"/><circle cx="51.0" cy="259.2" r="1.4" fill="#1a1a1a"/><circle cx="259.4" cy="239.8" r="1.4" fill="#1a1a1a"/><circle cx="259.4" cy="246.3" r="1.4" fill="#1a1a1a"/><circle cx="259.4" cy="261.5" r="1.4" fill="#1a1a1a"/><circle cx="259.4" cy="268.0" r="1.4" fill="#1a1a1a"/><circle cx="264.5" cy="621.4" r="1.4" fill="#1a1a1a"/><circle cx="264.5" cy="627.9" r="1.4" fill="#1a1a1a"/><circle cx="264.5" cy="643.2" r="1.4" fill="#1a1a1a"/><circle cx="264.5" cy="649.7" r="1.4" fill="#1a1a1a"/><circle cx="470.0" cy="630.5" r="1.4" fill="#1a1a1a"/><circle cx="470.0" cy="637.0" r="1.4" fill="#1a1a1a"/><circle cx="470.0" cy="652.3" r="1.4" fill="#1a1a1a"/><circle cx="470.0" cy="658.8" r="1.4" fill="#1a1a1a"/>
<rect x="572.0" y="266.1" width="2.6" height="2" fill="#555"/><rect x="580.1" y="266.4" width="2.6" height="2" fill="#555"/><rect x="588.2" y="266.7" width="2.6" height="2" fill="#555"/><rect x="596.3" y="267.1" width="2.6" height="2" fill="#555"/><rect x="604.4" y="267.4" width="2.6" height="2" fill="#555"/><rect x="612.5" y="267.8" width="2.6" height="2" fill="#555"/><rect x="620.6" y="268.1" width="2.6" height="2" fill="#555"/><rect x="628.7" y="268.5" width="2.6" height="2" fill="#555"/><rect x="636.8" y="268.8" width="2.6" height="2" fill="#555"/><rect x="644.9" y="269.1" width="2.6" height="2" fill="#555"/><rect x="653.0" y="269.5" width="2.6" height="2" fill="#555"/><rect x="661.1" y="269.8" width="2.6" height="2" fill="#555"/><rect x="669.2" y="270.2" width="2.6" height="2" fill="#555"/><rect x="677.3" y="270.5" width="2.6" height="2" fill="#555"/><rect x="685.4" y="270.9" width="2.6" height="2" fill="#555"/>
<rect x="1.7" y="621.9" width="1.2" height="2.6" fill="#555"/><rect x="9.8" y="621.9" width="1.2" height="2.6" fill="#555"/><rect x="17.9" y="621.9" width="1.2" height="2.6" fill="#555"/><rect x="26.0" y="621.9" width="1.2" height="2.6" fill="#555"/><rect x="34.1" y="621.9" width="1.2" height="2.6" fill="#555"/><rect x="42.2" y="621.9" width="1.2" height="2.6" fill="#555"/>
<path d="M619.3,263.0 L619.3,277.0" fill="none" stroke="#555" stroke-width="0.8" />
<path d="M614.8,260.9 H623.8 M619.3,256.4 V265.4 M616.0999999999999,257.7 L622.5,264.09999999999997 M622.5,257.7 L616.0999999999999,264.09999999999997" stroke="#333" stroke-width="0.8"/><circle cx="619.3" cy="260.9" r="1.2" fill="#333"/>
<path d="M614.8,279.4 H623.8 M619.3,274.9 V283.9 M616.0999999999999,276.2 L622.5,282.59999999999997 M622.5,276.2 L616.0999999999999,282.59999999999997" stroke="#333" stroke-width="0.8"/><circle cx="619.3" cy="279.4" r="1.2" fill="#333"/>
<path d="M506,263.8608 H495 M498.5,261.3608 L494,263.8608 L498.5,266.3608" stroke="#fff" stroke-width="1" fill="none"/>
<path d="M523,264.5816 H512 M515.5,262.0816 L511,264.5816 L515.5,267.0816" stroke="#fff" stroke-width="1" fill="none"/>
<path d="M540,265.3024 H529 M532.5,262.8024 L528,265.3024 L532.5,267.8024" stroke="#fff" stroke-width="1" fill="none"/>
<path d="M557,266.0232 H546 M549.5,263.5232 L545,266.0232 L549.5,268.5232" stroke="#fff" stroke-width="1" fill="none"/>
<path d="M367,335.91999999999996 H359 M361.5,334.11999999999995 L358.5,335.91999999999996 L361.5,337.71999999999997" stroke="#ddd" stroke-width="0.8" fill="none"/>
<path d="M380,336.518 H372 M374.5,334.71799999999996 L371.5,336.518 L374.5,338.318" stroke="#ddd" stroke-width="0.8" fill="none"/>
<path d="M393,337.116 H385 M387.5,335.316 L384.5,337.116 L387.5,338.916" stroke="#ddd" stroke-width="0.8" fill="none"/>
<path d="M190,328.23799999999994 H200 M197,326.43799999999993 L200,328.23799999999994 L197,330.03799999999995" stroke="#ddd" stroke-width="0.8" fill="none"/>
<path d="M0,160 L452,180" fill="none" stroke="#2a2a2a" stroke-width="1.5" stroke-dasharray="17,8.8,3.6,8.9" stroke-dashoffset="27.3"/>
<path d="M452,180 L453,162.4 M453,162.4 L540.3,141.3 M540.3,141.3 L569.4,151 M569.4,151 L559.7,178.5 M559.7,178.5 L559.7,185 M559.7,185 L645,190 M645,190 L635,215 M635,215 L634.7,250" fill="none" stroke="#2a2a2a" stroke-width="1.5" stroke-dasharray="17,8.8,3.6,8.9"/>
<path d="M629.5,318 L567,315.5 M567,315.5 L567,334 M567,334 L517,333.6" fill="none" stroke="#2a2a2a" stroke-width="1.5" stroke-dasharray="17,8.8,3.6,8.9"/>
<path d="M0,324.5 L65,326" fill="none" stroke="#2a2a2a" stroke-width="1.5" stroke-dasharray="17,8.8,3.6,8.9"/>
<path d="M66,331 L62,336 M62,336 L88,390 M88,390 L90,399 M90,399 L112,387 M112,387 L121,390 M121,390 L129,405 M129,405 L138,431" fill="none" stroke="#2a2a2a" stroke-width="1.5" stroke-dasharray="17,8.8,3.6,8.9"/>
<path d="M145.6,454.7 Q138,470 133.8,478 Q127.5,490 127.5,502.5" fill="none" stroke="#2a2a2a" stroke-width="1.5" stroke-dasharray="17,8.8,3.6,8.9"/>
<path d="M127.5,502.5 L150,528.7 M150,528.7 L143.7,531.2 M143.7,531.2 L57.5,560" fill="none" stroke="#2a2a2a" stroke-width="1.5" stroke-dasharray="17,8.8,3.6,8.9"/>
<path d="M57.5,560 Q35,566 22.5,576 L15,582.5 L0,582.5" fill="none" stroke="#2a2a2a" stroke-width="1.5" stroke-dasharray="17,8.8,3.6,8.9"/>
<path d="M0,666 L340,681" fill="none" stroke="#2a2a2a" stroke-width="1.5" stroke-dasharray="17,8.8,3.6,8.9" stroke-dashoffset="4.55"/>
<path d="M340,681 L577.5,691" fill="none" stroke="#2a2a2a" stroke-width="1.5" stroke-dasharray="17,8.8,3.6,8.9" stroke-dashoffset="21.8"/>
<path d="M577.5,691 L579,708 M579,708 L628.5,712 M628.5,712 L665.6,720.3 M665.6,720.3 L680,722.4" fill="none" stroke="#2a2a2a" stroke-width="1.5" stroke-dasharray="17,8.8,3.6,8.9"/>
<path d="M493,336 L493,371 M493,371 L495,374.3 M495,374.3 L510.6,373.2 M510.6,373.2 L520.9,372.2 M520.9,372.2 L525,375.3 M525,375.3 L575,374.3" fill="none" stroke="#2a2a2a" stroke-width="1.5" stroke-dasharray="17,8.8,3.6,8.9"/>
<path d="M575,374.3 L576,385 Q579,400 582.5,410 L590,440 L594,446" fill="none" stroke="#2a2a2a" stroke-width="1.5" stroke-dasharray="17,8.8,3.6,8.9"/>
<path d="M594,446 L635,445 M635,445 L637.5,450 M637.5,450 L657.5,457.5 M657.5,457.5 L680,460" fill="none" stroke="#2a2a2a" stroke-width="1.5" stroke-dasharray="17,8.8,3.6,8.9"/>
<path d="M634.7,255.7 L637.8,255.7 L637.8,270.1 M635.7,278 L635.7,282 M630.6,290.7 L630.2,300 M629.9,307 L629.5,318" fill="none" stroke="#2a2a2a" stroke-width="1.5"/><circle cx="628.5" cy="287.6" r="1.1" fill="#2a2a2a"/>
<path d="M629,318 L567,315.5 L567,334 L517,333.6" fill="none" stroke="#2a2a2a" stroke-width="1.5" stroke-dasharray="17,8.8,3.6,8.9"/>
<path d="M0,324.5 L65,326" fill="none" stroke="#2a2a2a" stroke-width="1.5" stroke-dasharray="17,8.8,3.6,8.9"/>
<path d="M66,331 L62,336 L88,390 L90,399 L112,387 L121,390 L129,405 L138,431" fill="none" stroke="#2a2a2a" stroke-width="1.5" stroke-dasharray="17,8.8,3.6,8.9"/>
<path d="M145.6,454.7 Q138,470 133.8,478 Q127.5,490 127.5,502.5 L150,528.7 L143.7,531.2 L57.5,560 Q35,566 22.5,576 L15,582.5 L0,582.5" fill="none" stroke="#2a2a2a" stroke-width="1.5" stroke-dasharray="17,8.8,3.6,8.9"/>
<path d="M0,666 L340,681 L577.5,691 L579,708 L628.5,712 L665.6,720.3 L680,722.4" fill="none" stroke="#2a2a2a" stroke-width="1.5" stroke-dasharray="17,8.8,3.6,8.9"/>
<path d="M493,336 L493,371 L495,374.3 L510.6,373.2 L520.9,372.2 L525,375.3 L575,374.3 L576,385 L582.5,410 L590,440 L594,446 L635,445 L637.5,450 L657.5,457.5 L680,460" fill="none" stroke="#2a2a2a" stroke-width="1.5" stroke-dasharray="17,8.8,3.6,8.9"/>
<rect x="518.3" y="381.2" width="47" height="14.6" fill="none" stroke="#0a0a0a" stroke-width="3"/><rect x="552" y="381" width="3" height="15" fill="#0a0a0a"/><rect x="530" y="379" width="8" height="4" fill="#fff"/>
<path d="M296.5,548.0 L313.0,548.0 L325.3,571.5 L294.4,570.4 Z" fill="#fff" stroke="#6e6e6e" stroke-width="0.7"/>
<path d="M379.0,483.0 L398.0,474.5 L404.0,483.5 L418.0,496.0 L439.4,498.5 L442.4,497.1 L446.0,502.0 L470.9,508.5 L466.8,513.7 L437.6,517.0 L418.2,515.3 L395.3,503.0 L384.7,484.4 Z" fill="#fff" stroke="#777" stroke-width="0.7"/>
<rect x="-5.5" y="-1.6" width="11" height="3.2" rx="1.6" transform="translate(397.9,488.2) rotate(55)" fill="#fff" stroke="#555" stroke-width="0.7"/>
<rect x="419.7" y="502" width="14.6" height="3.2" rx="1.6" fill="#fff" stroke="#555" stroke-width="0.7"/>
<path d="M439.8,502.0 L439.8,516.5" fill="none" stroke="#777" stroke-width="0.7" />
<path d="M616,557 L616,572 Q617,581 627,581 Q637,580 644,566 L640,560 Z" fill="#fff" stroke="#777" stroke-width="0.7"/>
<g><path d="M129.5,367.0 L147.0,356.0 L151.0,362.0 L133.5,373.5 Z" fill="#0a0a0a" /><path d="M143.0,354.5 L147.5,351.0 L160.0,362.5 L155.5,366.5 Z" fill="#0a0a0a" /><path d="M151.8,382.4 L158.8,380.6 L161.8,372.4 L166.5,373.5 L164.7,382.9 L170.0,390.0 L166.5,394.1 L160.6,385.3 L152.9,385.3 Z" fill="#0a0a0a" /><path d="M138.2,426.8 L147.0,425.3 L150.0,433.4 L144.1,437.8 Z" fill="#0a0a0a" /><path d="M173.0,494.0 L176.5,494.0 L176.5,498.0 L173.0,498.0 Z" fill="#0a0a0a" /><path d="M217.6,495.5 L224.8,495.5 L224.8,500.5 L217.6,500.5 Z" fill="#0a0a0a" /><path d="M226.0,496.0 L230.6,496.0 L230.6,500.5 L226.0,500.5 Z" fill="#0a0a0a" /><path d="M403.2,361.2 L425.3,360.8 L425.3,367.4 L403.2,367.9 Z" fill="#0a0a0a" /><path d="M409.4,376.2 L437.6,371.8 L438.5,377.0 L410.3,383.2 Z" fill="#0a0a0a" /><path d="M392.6,381.5 L404.1,379.7 L405.9,385.9 L393.5,388.5 Z" fill="#0a0a0a" /><path d="M345.9,394.7 L370.6,393.0 L371.5,398.2 L346.8,403.5 Z" fill="#0a0a0a" /><path d="M374.0,386.8 L381.0,386.0 L381.2,389.4 L374.0,390.0 Z" fill="#0a0a0a" /><path d="M390.9,397.4 L395.3,397.4 L395.3,400.9 L390.9,400.9 Z" fill="#0a0a0a" /><path d="M350.7,410.4 L379.4,403.8 L380.9,406.8 L352.2,413.4 Z" fill="#0a0a0a" /><path d="M352.9,420.0 L366.9,416.3 L367.9,419.3 L354.4,422.9 Z" fill="#0a0a0a" /><path d="M330.1,397.2 L332.5,396.5 L335.8,406.0 L333.5,406.6 Z" fill="#0a0a0a" /><path d="M308.8,414.2 L313.2,412.0 L314.0,413.5 L309.6,415.7 Z" fill="#0a0a0a" /><path d="M420.0,387.6 L432.3,386.2 L432.3,390.3 L420.0,391.2 Z" fill="#0a0a0a" /><path d="M431.0,394.7 L434.0,394.7 L434.0,402.0 L438.5,402.0 L438.5,405.0 L431.0,405.0 Z" fill="#0a0a0a" /><path d="M453.0,352.6 L474.6,352.6 L474.6,359.9 L453.0,359.9 Z" fill="#0a0a0a" /><path d="M475.6,349.6 L486.9,349.6 L486.9,353.7 L475.6,353.7 Z" fill="#0a0a0a" /><path d="M480.7,354.7 L486.0,354.7 L488.0,373.2 L482.0,373.2 Z" fill="#0a0a0a" /><path d="M447.8,364.0 L474.6,362.9 L474.6,373.2 L448.8,376.3 Z" fill="#0a0a0a" /><path d="M440.6,384.6 L448.8,384.6 L448.8,386.6 L440.6,386.6 Z" fill="#0a0a0a" /><path d="M446.8,391.8 L459.1,391.8 L459.1,414.4 L446.8,414.4 L446.8,411.5 L456.0,411.5 L456.0,404.5 L447.0,404.5 L447.0,401.5 L456.0,401.5 L456.0,395.0 L446.8,395.0 Z" fill="#0a0a0a" /><path d="M503.5,381.2 L509.4,381.2 L509.4,398.8 L503.5,398.8 Z" fill="#0a0a0a" /><path d="M518.8,408.2 L530.2,408.2 L530.2,411.3 L518.8,411.3 Z" fill="#0a0a0a" /><path d="M540.3,416.5 L574.1,416.5 L574.1,423.8 L540.3,423.8 Z" fill="#0a0a0a" /><path d="M565.3,428.2 L575.6,428.2 L575.6,432.0 L565.3,432.0 Z" fill="#0a0a0a" /><path d="M494.0,409.0 L497.0,409.5 L495.0,414.0 L499.0,414.5 L496.0,419.0 L493.0,418.5 L495.0,414.5 L492.0,414.0 Z" fill="#0a0a0a" /><path d="M505.0,415.0 L509.0,416.0 L506.0,421.0 L509.4,422.0 L505.5,428.2 L502.0,427.0 L505.0,422.0 L502.0,421.0 Z" fill="#0a0a0a" /><path d="M512.4,427.0 L515.5,427.0 L516.8,443.0 L513.5,443.0 Z" fill="#0a0a0a" /><path d="M528.5,431.0 L531.0,429.7 L540.3,439.5 L537.5,441.5 Z" fill="#0a0a0a" /><path d="M527.0,443.0 L536.0,444.0 L535.5,446.5 L526.5,445.5 Z" fill="#0a0a0a" /><path d="M485.9,381.2 L489.0,381.2 L489.0,387.0 L494.0,387.0 L497.6,394.4 L494.5,394.4 L491.0,389.5 L488.5,394.4 L485.9,394.4 Z" fill="#0a0a0a" /><path d="M322.1,434.7 L338.2,424.4 L341.2,428.1 L324.3,437.6 Z" fill="#0a0a0a" /><path d="M328.0,443.0 L335.0,439.0 L339.0,443.0 L354.4,433.2 L358.8,431.8 L373.5,451.6 L370.6,453.8 L376.5,461.9 L373.5,463.4 L369.1,456.8 L357.4,463.4 L345.0,450.0 L337.0,454.0 Z" fill="#0a0a0a" /><path d="M375.0,464.0 L378.0,462.5 L382.0,469.5 L387.0,469.0 L387.5,472.0 L381.0,473.0 L376.5,466.5 Z" fill="#0a0a0a" /><path d="M424.6,436.2 L410.0,440.4 L401.9,446.9 L398.7,456.6 L397.1,469.6 L400.3,479.3 L410.0,487.4 L423.0,495.5 L432.7,498.7 L442.4,497.1 L439.2,489.0 L429.4,482.5 L421.4,476.0 L416.5,468.0 L414.9,461.5 L418.1,456.6 L424.6,453.4 L426.2,437.2 Z" fill="#0a0a0a" /><path d="M375.9,485.3 L384.7,484.4 L395.3,503.0 L418.2,515.3 L437.6,517.0 L466.8,513.7 L470.9,508.5 L479.1,511.6 L514.1,513.7 L515.1,516.8 L508.0,529.1 L501.8,543.5 L497.6,545.6 L489.4,544.6 L485.3,537.4 L480.1,527.0 L475.0,523.0 L441.0,522.0 L441.2,521.5 L438.5,527.6 L434.1,536.5 L430.6,541.8 L423.5,542.6 L420.0,536.5 L414.7,525.9 L411.2,521.5 L400.6,515.3 L395.3,512.6 L370.6,511.8 L367.0,509.0 L370.6,501.2 Z" fill="#0a0a0a" /><path d="M439.2,472.8 L460.2,468.0 L481.2,472.8 L473.2,485.8 L461.8,490.6 L452.1,489.0 L444.0,484.1 Z" fill="#0a0a0a" /><path d="M496.6,480.7 L543.0,481.8 L552.8,500.3 L485.3,497.8 Z" fill="#0a0a0a" /><path d="M548.0,465.0 L554.5,458.5 L577.5,475.0 L571.5,482.0 Z" fill="#0a0a0a" /><path d="M584.7,469.0 L587.0,467.8 L591.0,473.0 L588.5,474.5 Z" fill="#0a0a0a" /><path d="M590.0,475.0 L592.5,474.0 L595.3,480.0 L592.8,481.0 Z" fill="#0a0a0a" /><path d="M599.2,471.5 L611.5,466.5 L613.8,472.0 L601.5,477.0 Z" fill="#0a0a0a" /><path d="M540.9,420.0 L573.8,420.0 L573.8,424.1 L540.9,424.1 Z" fill="#0a0a0a" /><path d="M501.8,420.0 L505.0,420.0 L508.0,428.0 L504.5,428.5 Z" fill="#0a0a0a" /><path d="M514.0,428.0 L517.0,428.0 L517.2,440.6 L514.5,440.6 Z" fill="#0a0a0a" /><path d="M524.0,434.0 L527.0,433.0 L534.0,441.0 L531.0,443.0 Z" fill="#0a0a0a" /><path d="M525.0,443.0 L532.0,446.0 L531.0,448.0 L524.0,445.5 Z" fill="#0a0a0a" /><path d="M539.7,520.0 L545.0,511.5 L562.2,518.0 L556.5,531.3 Z" fill="#0a0a0a" /><path d="M557.0,530.5 L566.5,514.0 L579.4,521.0 L570.0,539.3 Z" fill="#0a0a0a" /><path d="M579.5,522.0 L592.6,529.0 L583.5,548.5 L570.5,541.0 Z" fill="#0a0a0a" /><path d="M547.6,546.0 L552.5,536.6 L578.0,549.0 L572.5,561.8 Z" fill="#0a0a0a" /><path d="M594.4,534.7 L600.6,533.8 L624.4,546.7 L650.0,544.4 L655.3,538.2 L661.5,531.2 L680.0,538.2 L680.0,554.0 L674.7,564.7 L671.2,563.0 L651.8,551.5 L646.5,558.5 L637.6,557.6 L628.0,555.0 L625.3,560.3 L619.1,564.7 L588.2,547.0 Z" fill="#0a0a0a" /><path d="M620.0,560.3 L626.2,561.2 L624.4,570.9 L620.0,570.9 Z" fill="#0a0a0a" /><path d="M616.5,526.8 L624.0,526.0 L636.0,533.0 L632.0,536.0 Z" fill="#0a0a0a" /><path d="M300.6,555.0 L305.0,551.0 L310.0,558.0 L306.0,562.0 Z" fill="#0a0a0a" /></g>
<circle cx="346.3" cy="447.2" r="2.6" fill="#fff" stroke="#aaa" stroke-width="0.6"/>
<path d="M524.5,157 Q525,154 532,151.5 L542,149.5 Q548,149.5 551.5,154 Q553.5,158 553.3,163 Q553,165.5 548,165.5 L528,165.3 Q524,165 524.5,160 Z" fill="#e2e2e2"/>
<path d="M131,496 Q129,488 133,480 Q137,472 141,471 Q146,472 151,480 Q156,487 155.5,491 Q150,496 140,496.5 Z" fill="#e2e2e2"/>
<path d="M434.0,439.4 L444.7,433.2 L460.6,433.4 L481.2,439.6 L485.3,444.7 L477.0,447.8 L460.6,449.9 L452.4,456.0 L444.0,461.2 L437.6,462.4 L432.3,455.3 Z" fill="#e2e2e2" />
<path d="M284.0,397.0 L292.0,394.0 L302.4,422.0 L297.0,425.0 Z" fill="#fff" stroke="#888" stroke-width="0.7"/>
<g opacity="0.999">
<text x="86.8" y="102.8" font-size="11.63" fill="#fff" stroke="#fff" stroke-width="2" stroke-linejoin="round" font-weight="normal" textLength="18.8" lengthAdjust="spacingAndGlyphs" >ASR</text>
<text x="86.8" y="102.8" font-size="11.63" fill="#1e1e1e" stroke="#1e1e1e" stroke-width="0.25" font-weight="normal" textLength="18.8" lengthAdjust="spacingAndGlyphs" >ASR</text>
<text x="80.5" y="197.0" font-size="10.90" fill="#fff" stroke="#fff" stroke-width="2" stroke-linejoin="round" font-weight="normal" textLength="197.0" lengthAdjust="spacingAndGlyphs" >Markierte Aufsetzpunkte für leichte Luftfahrzeuge</text>
<text x="80.5" y="197.0" font-size="10.90" fill="#1e1e1e" stroke="#1e1e1e" stroke-width="0.25" font-weight="normal" textLength="197.0" lengthAdjust="spacingAndGlyphs" >Markierte Aufsetzpunkte für leichte Luftfahrzeuge</text>
<text x="80.5" y="208.8" font-size="10.90" fill="#fff" stroke="#fff" stroke-width="2" stroke-linejoin="round" font-weight="normal" textLength="172.0" lengthAdjust="spacingAndGlyphs" >Marked touch down points for light aircraft</text>
<text x="80.5" y="208.8" font-size="10.90" fill="#1e1e1e" stroke="#1e1e1e" stroke-width="0.25" font-weight="normal" textLength="172.0" lengthAdjust="spacingAndGlyphs" >Marked touch down points for light aircraft</text>
<text x="248.5" y="707.5" font-size="10.90" fill="#fff" stroke="#fff" stroke-width="2" stroke-linejoin="round" font-weight="normal" textLength="196.5" lengthAdjust="spacingAndGlyphs" >Markierte Aufsetzpunkte für leichte Luftfahrzeuge</text>
<text x="248.5" y="707.5" font-size="10.90" fill="#1e1e1e" stroke="#1e1e1e" stroke-width="0.25" font-weight="normal" textLength="196.5" lengthAdjust="spacingAndGlyphs" >Markierte Aufsetzpunkte für leichte Luftfahrzeuge</text>
<text x="248.5" y="720.0" font-size="10.90" fill="#fff" stroke="#fff" stroke-width="2" stroke-linejoin="round" font-weight="normal" textLength="172.5" lengthAdjust="spacingAndGlyphs" >Marked touch down points for light aircraft</text>
<text x="248.5" y="720.0" font-size="10.90" fill="#1e1e1e" stroke="#1e1e1e" stroke-width="0.25" font-weight="normal" textLength="172.5" lengthAdjust="spacingAndGlyphs" >Marked touch down points for light aircraft</text>
<text x="1.3" y="231.5" font-size="10.47" fill="#fff" stroke="#fff" stroke-width="2" stroke-linejoin="round" font-weight="normal" textLength="7.2" lengthAdjust="spacingAndGlyphs" >m</text>
<text x="1.3" y="231.5" font-size="10.47" fill="#1e1e1e" stroke="#1e1e1e" stroke-width="0.25" font-weight="normal" textLength="7.2" lengthAdjust="spacingAndGlyphs" >m</text>
<text x="363.0" y="200.0" font-size="10.90" fill="#fff" stroke="#fff" stroke-width="2" stroke-linejoin="round" font-weight="normal" textLength="20.0" lengthAdjust="spacingAndGlyphs" >HAD</text>
<text x="363.0" y="200.0" font-size="10.90" fill="#1e1e1e" stroke="#1e1e1e" stroke-width="0.25" font-weight="normal" textLength="20.0" lengthAdjust="spacingAndGlyphs" >HAD</text>
<text x="348.8" y="212.5" font-size="10.90" fill="#fff" stroke="#fff" stroke-width="2" stroke-linejoin="round" font-weight="normal" textLength="34.2" lengthAdjust="spacingAndGlyphs" >CH 86y</text>
<text x="348.8" y="212.5" font-size="10.90" fill="#1e1e1e" stroke="#1e1e1e" stroke-width="0.25" font-weight="normal" textLength="34.2" lengthAdjust="spacingAndGlyphs" >CH 86y</text>
<text x="342.5" y="224.5" font-size="10.90" fill="#fff" stroke="#fff" stroke-width="2" stroke-linejoin="round" font-weight="normal" textLength="40.5" lengthAdjust="spacingAndGlyphs" >(113.95)</text>
<text x="342.5" y="224.5" font-size="10.90" fill="#1e1e1e" stroke="#1e1e1e" stroke-width="0.25" font-weight="normal" textLength="40.5" lengthAdjust="spacingAndGlyphs" >(113.95)</text>
<text x="486.0" y="252.2" font-size="11.19" fill="#fff" stroke="#fff" stroke-width="2" stroke-linejoin="round" font-weight="normal" textLength="22.8" lengthAdjust="spacingAndGlyphs" >169 ft</text>
<text x="486.0" y="252.2" font-size="11.19" fill="#1e1e1e" stroke="#1e1e1e" stroke-width="0.25" font-weight="normal" textLength="22.8" lengthAdjust="spacingAndGlyphs" >169 ft</text>
<text x="391.2" y="285.5" font-size="10.90" fill="#fff" stroke="#fff" stroke-width="2" stroke-linejoin="round" font-weight="normal" textLength="10.0" lengthAdjust="spacingAndGlyphs" >3°</text>
<text x="391.2" y="285.5" font-size="10.90" fill="#1e1e1e" stroke="#1e1e1e" stroke-width="0.25" font-weight="normal" textLength="10.0" lengthAdjust="spacingAndGlyphs" >3°</text>
<text x="52.5" y="282.5" font-size="10.17" fill="#fff" stroke="#fff" stroke-width="2" stroke-linejoin="round" font-weight="normal" textLength="62.0" lengthAdjust="spacingAndGlyphs" >Haltepositionen</text>
<text x="52.5" y="282.5" font-size="10.17" fill="#1e1e1e" stroke="#1e1e1e" stroke-width="0.25" font-weight="normal" textLength="62.0" lengthAdjust="spacingAndGlyphs" >Haltepositionen</text>
<text x="44.5" y="293.0" font-size="10.17" fill="#fff" stroke="#fff" stroke-width="2" stroke-linejoin="round" font-weight="normal" textLength="69.2" lengthAdjust="spacingAndGlyphs" >Holding positions</text>
<text x="44.5" y="293.0" font-size="10.17" fill="#1e1e1e" stroke="#1e1e1e" stroke-width="0.25" font-weight="normal" textLength="69.2" lengthAdjust="spacingAndGlyphs" >Holding positions</text>
<text x="118.0" y="289.0" font-size="10.90" fill="#fff" stroke="#fff" stroke-width="2" stroke-linejoin="round" font-weight="normal" textLength="16.0" lengthAdjust="spacingAndGlyphs" >09C</text>
<text x="118.0" y="289.0" font-size="10.90" fill="#1e1e1e" stroke="#1e1e1e" stroke-width="0.25" font-weight="normal" textLength="16.0" lengthAdjust="spacingAndGlyphs" >09C</text>
<text x="86.2" y="340.0" font-size="10.47" fill="#fff" stroke="#fff" stroke-width="2" stroke-linejoin="round" font-weight="normal" textLength="61.8" lengthAdjust="spacingAndGlyphs" >Haltepositionen</text>
<text x="86.2" y="340.0" font-size="10.47" fill="#1e1e1e" stroke="#1e1e1e" stroke-width="0.25" font-weight="normal" textLength="61.8" lengthAdjust="spacingAndGlyphs" >Haltepositionen</text>
<text x="78.0" y="350.8" font-size="10.47" fill="#fff" stroke="#fff" stroke-width="2" stroke-linejoin="round" font-weight="normal" textLength="69.5" lengthAdjust="spacingAndGlyphs" >Holding positions</text>
<text x="78.0" y="350.8" font-size="10.47" fill="#1e1e1e" stroke="#1e1e1e" stroke-width="0.25" font-weight="normal" textLength="69.5" lengthAdjust="spacingAndGlyphs" >Holding positions</text>
<text x="152.4" y="345.0" font-size="10.47" fill="#fff" stroke="#fff" stroke-width="2" stroke-linejoin="round" font-weight="normal" textLength="15.8" lengthAdjust="spacingAndGlyphs" >09C</text>
<text x="152.4" y="345.0" font-size="10.47" fill="#1e1e1e" stroke="#1e1e1e" stroke-width="0.25" font-weight="normal" textLength="15.8" lengthAdjust="spacingAndGlyphs" >09C</text>
<text x="364.7" y="303.2" font-size="10.47" fill="#fff" stroke="#fff" stroke-width="2" stroke-linejoin="round" font-weight="normal" textLength="60.7" lengthAdjust="spacingAndGlyphs" >Haltepositionen</text>
<text x="364.7" y="303.2" font-size="10.47" fill="#1e1e1e" stroke="#1e1e1e" stroke-width="0.25" font-weight="normal" textLength="60.7" lengthAdjust="spacingAndGlyphs" >Haltepositionen</text>
<text x="356.5" y="314.6" font-size="10.47" fill="#fff" stroke="#fff" stroke-width="2" stroke-linejoin="round" font-weight="normal" textLength="67.9" lengthAdjust="spacingAndGlyphs" >Holding positions</text>
<text x="356.5" y="314.6" font-size="10.47" fill="#1e1e1e" stroke="#1e1e1e" stroke-width="0.25" font-weight="normal" textLength="67.9" lengthAdjust="spacingAndGlyphs" >Holding positions</text>
<text x="430.6" y="309.4" font-size="10.47" fill="#fff" stroke="#fff" stroke-width="2" stroke-linejoin="round" font-weight="normal" textLength="15.4" lengthAdjust="spacingAndGlyphs" >27C</text>
<text x="430.6" y="309.4" font-size="10.47" fill="#1e1e1e" stroke="#1e1e1e" stroke-width="0.25" font-weight="normal" textLength="15.4" lengthAdjust="spacingAndGlyphs" >27C</text>
<text x="355.4" y="329.0" font-size="10.90" fill="#fff" stroke="#fff" stroke-width="2" stroke-linejoin="round" font-weight="normal" textLength="22.7" lengthAdjust="spacingAndGlyphs" >174 ft</text>
<text x="355.4" y="329.0" font-size="10.90" fill="#1e1e1e" stroke="#1e1e1e" stroke-width="0.25" font-weight="normal" textLength="22.7" lengthAdjust="spacingAndGlyphs" >174 ft</text>
<text x="179.7" y="320.8" font-size="10.90" fill="#fff" stroke="#fff" stroke-width="2" stroke-linejoin="round" font-weight="normal" textLength="22.9" lengthAdjust="spacingAndGlyphs" >178 ft</text>
<text x="179.7" y="320.8" font-size="10.90" fill="#1e1e1e" stroke="#1e1e1e" stroke-width="0.25" font-weight="normal" textLength="22.9" lengthAdjust="spacingAndGlyphs" >178 ft</text>
<text x="231.2" y="323.8" font-size="11.63" fill="#fff" stroke="#fff" stroke-width="2" stroke-linejoin="round" font-weight="normal" textLength="61.2" lengthAdjust="spacingAndGlyphs" >780 x 22,50 m</text>
<text x="231.2" y="323.8" font-size="11.63" fill="#1e1e1e" stroke="#1e1e1e" stroke-width="0.25" font-weight="normal" textLength="61.2" lengthAdjust="spacingAndGlyphs" >780 x 22,50 m</text>
<text x="294.7" y="350.6" font-size="10.47" fill="#fff" stroke="#fff" stroke-width="2" stroke-linejoin="round" font-weight="normal" textLength="17.6" lengthAdjust="spacingAndGlyphs" >GA2</text>
<text x="294.7" y="350.6" font-size="10.47" fill="#1e1e1e" stroke="#1e1e1e" stroke-width="0.25" font-weight="normal" textLength="17.6" lengthAdjust="spacingAndGlyphs" >GA2</text>
<text x="263.8" y="363.8" font-size="10.47" fill="#fff" stroke="#fff" stroke-width="2" stroke-linejoin="round" font-weight="normal" textLength="23.8" lengthAdjust="spacingAndGlyphs" >Apron</text>
<text x="263.8" y="363.8" font-size="10.47" fill="#3dd03d" stroke="#3dd03d" stroke-width="0.25" font-weight="normal" textLength="23.8" lengthAdjust="spacingAndGlyphs" >Apron</text>
<text x="263.0" y="381.5" font-size="10.47" fill="#fff" stroke="#fff" stroke-width="2" stroke-linejoin="round" font-weight="normal" textLength="15.8" lengthAdjust="spacingAndGlyphs" >DFS</text>
<text x="263.0" y="381.5" font-size="10.47" fill="#3dd03d" stroke="#3dd03d" stroke-width="0.25" font-weight="normal" textLength="15.8" lengthAdjust="spacingAndGlyphs" >DFS</text>
<text x="338.0" y="384.1" font-size="10.47" fill="#fff" stroke="#fff" stroke-width="2" stroke-linejoin="round" font-weight="normal" textLength="16.7" lengthAdjust="spacingAndGlyphs" >GA1</text>
<text x="338.0" y="384.1" font-size="10.47" fill="#1e1e1e" stroke="#1e1e1e" stroke-width="0.25" font-weight="normal" textLength="16.7" lengthAdjust="spacingAndGlyphs" >GA1</text>
<text x="447.0" y="339.3" font-size="10.47" fill="#fff" stroke="#fff" stroke-width="2" stroke-linejoin="round" font-weight="normal" textLength="16.5" lengthAdjust="spacingAndGlyphs" >GA3</text>
<text x="447.0" y="339.3" font-size="10.47" fill="#1e1e1e" stroke="#1e1e1e" stroke-width="0.25" font-weight="normal" textLength="16.5" lengthAdjust="spacingAndGlyphs" >GA3</text>
<text x="478.7" y="346.5" font-size="10.47" fill="#fff" stroke="#fff" stroke-width="2" stroke-linejoin="round" font-weight="normal" textLength="38.1" lengthAdjust="spacingAndGlyphs" >47 ft GND</text>
<text x="478.7" y="346.5" font-size="10.47" fill="#1e1e1e" stroke="#1e1e1e" stroke-width="0.25" font-weight="normal" textLength="38.1" lengthAdjust="spacingAndGlyphs" >47 ft GND</text>
<text x="425.0" y="365.5" font-size="13.81" fill="#fff" stroke="#fff" stroke-width="2" stroke-linejoin="round" font-weight="normal" textLength="18.8" lengthAdjust="spacingAndGlyphs" font-style="italic">237</text>
<text x="425.0" y="365.5" font-size="13.81" fill="#1e1e1e" stroke="#1e1e1e" stroke-width="0.6" font-weight="normal" textLength="18.8" lengthAdjust="spacingAndGlyphs" font-style="italic">237</text>
<text x="460.0" y="353.7" font-size="9.45" fill="#fff" stroke="#fff" stroke-width="2" stroke-linejoin="round" font-weight="normal" textLength="9.4" lengthAdjust="spacingAndGlyphs" >16</text>
<text x="460.0" y="353.7" font-size="9.45" fill="#1e1e1e" stroke="#1e1e1e" stroke-width="0.25" font-weight="normal" textLength="9.4" lengthAdjust="spacingAndGlyphs" >16</text>
<text x="412.0" y="359.0" font-size="9.45" fill="#fff" stroke="#fff" stroke-width="2" stroke-linejoin="round" font-weight="normal" textLength="8.0" lengthAdjust="spacingAndGlyphs" >15</text>
<text x="412.0" y="359.0" font-size="9.45" fill="#1e1e1e" stroke="#1e1e1e" stroke-width="0.25" font-weight="normal" textLength="8.0" lengthAdjust="spacingAndGlyphs" >15</text>
<text x="397.0" y="378.8" font-size="9.45" fill="#fff" stroke="#fff" stroke-width="2" stroke-linejoin="round" font-weight="normal" textLength="7.0" lengthAdjust="spacingAndGlyphs" >13</text>
<text x="397.0" y="378.8" font-size="9.45" fill="#1e1e1e" stroke="#1e1e1e" stroke-width="0.25" font-weight="normal" textLength="7.0" lengthAdjust="spacingAndGlyphs" >13</text>
<text x="413.0" y="378.8" font-size="9.45" fill="#fff" stroke="#fff" stroke-width="2" stroke-linejoin="round" font-weight="normal" textLength="8.8" lengthAdjust="spacingAndGlyphs" >14</text>
<text x="413.0" y="378.8" font-size="9.45" fill="#1e1e1e" stroke="#1e1e1e" stroke-width="0.25" font-weight="normal" textLength="8.8" lengthAdjust="spacingAndGlyphs" >14</text>
<text x="360.0" y="389.4" font-size="9.45" fill="#fff" stroke="#fff" stroke-width="2" stroke-linejoin="round" font-weight="normal" textLength="8.0" lengthAdjust="spacingAndGlyphs" >12</text>
<text x="360.0" y="389.4" font-size="9.45" fill="#1e1e1e" stroke="#1e1e1e" stroke-width="0.25" font-weight="normal" textLength="8.0" lengthAdjust="spacingAndGlyphs" >12</text>
<text x="338.8" y="399.1" font-size="9.45" fill="#fff" stroke="#fff" stroke-width="2" stroke-linejoin="round" font-weight="normal" textLength="7.1" lengthAdjust="spacingAndGlyphs" >11</text>
<text x="338.8" y="399.1" font-size="9.45" fill="#1e1e1e" stroke="#1e1e1e" stroke-width="0.25" font-weight="normal" textLength="7.1" lengthAdjust="spacingAndGlyphs" >11</text>
<text x="373.2" y="400.0" font-size="10.90" fill="#fff" stroke="#fff" stroke-width="2" stroke-linejoin="round" font-weight="normal" textLength="15.9" lengthAdjust="spacingAndGlyphs" >GAT</text>
<text x="373.2" y="400.0" font-size="10.90" fill="#1e1e1e" stroke="#1e1e1e" stroke-width="0.25" font-weight="normal" textLength="15.9" lengthAdjust="spacingAndGlyphs" >GAT</text>
<text x="399.7" y="398.2" font-size="10.47" fill="#fff" stroke="#fff" stroke-width="2" stroke-linejoin="round" font-weight="normal" textLength="23.8" lengthAdjust="spacingAndGlyphs" >Hallen</text>
<text x="399.7" y="398.2" font-size="10.47" fill="#1e1e1e" stroke="#1e1e1e" stroke-width="0.25" font-weight="normal" textLength="23.8" lengthAdjust="spacingAndGlyphs" >Hallen</text>
<text x="399.7" y="408.0" font-size="10.47" fill="#fff" stroke="#fff" stroke-width="2" stroke-linejoin="round" font-weight="normal" textLength="32.6" lengthAdjust="spacingAndGlyphs" >Hangars</text>
<text x="399.7" y="408.0" font-size="10.47" fill="#1e1e1e" stroke="#1e1e1e" stroke-width="0.25" font-weight="normal" textLength="32.6" lengthAdjust="spacingAndGlyphs" >Hangars</text>
<text x="324.7" y="410.3" font-size="9.45" fill="#fff" stroke="#fff" stroke-width="2" stroke-linejoin="round" font-weight="normal" textLength="4.1" lengthAdjust="spacingAndGlyphs" >6</text>
<text x="324.7" y="410.3" font-size="9.45" fill="#1e1e1e" stroke="#1e1e1e" stroke-width="0.25" font-weight="normal" textLength="4.1" lengthAdjust="spacingAndGlyphs" >6</text>
<text x="340.6" y="361.5" font-size="9.45" fill="#fff" stroke="#fff" stroke-width="2" stroke-linejoin="round" font-weight="normal" textLength="4.4" lengthAdjust="spacingAndGlyphs" >3</text>
<text x="340.6" y="361.5" font-size="9.45" fill="#1e1e1e" stroke="#1e1e1e" stroke-width="0.25" font-weight="normal" textLength="4.4" lengthAdjust="spacingAndGlyphs" >3</text>
<text x="216.6" y="357.0" font-size="9.45" fill="#fff" stroke="#fff" stroke-width="2" stroke-linejoin="round" font-weight="normal" textLength="4.4" lengthAdjust="spacingAndGlyphs" >2</text>
<text x="216.6" y="357.0" font-size="9.45" fill="#1e1e1e" stroke="#1e1e1e" stroke-width="0.25" font-weight="normal" textLength="4.4" lengthAdjust="spacingAndGlyphs" >2</text>
<text x="112.5" y="422.0" font-size="12.35" fill="#fff" stroke="#fff" stroke-width="2" stroke-linejoin="round" font-weight="normal" textLength="19.1" lengthAdjust="spacingAndGlyphs" font-style="italic">418</text>
<text x="112.5" y="422.0" font-size="12.35" fill="#1e1e1e" stroke="#1e1e1e" stroke-width="0.3" font-weight="normal" textLength="19.1" lengthAdjust="spacingAndGlyphs" font-style="italic">418</text>
<text x="116.2" y="444.7" font-size="11.63" fill="#fff" stroke="#fff" stroke-width="2" stroke-linejoin="round" font-weight="normal" textLength="19.8" lengthAdjust="spacingAndGlyphs" >TWR</text>
<text x="116.2" y="444.7" font-size="11.63" fill="#1e1e1e" stroke="#1e1e1e" stroke-width="0.25" font-weight="normal" textLength="19.8" lengthAdjust="spacingAndGlyphs" >TWR</text>
<text x="161.8" y="435.3" font-size="11.34" fill="#fff" stroke="#fff" stroke-width="2" stroke-linejoin="round" font-weight="normal" textLength="18.3" lengthAdjust="spacingAndGlyphs" >ABN</text>
<text x="161.8" y="435.3" font-size="11.34" fill="#1e1e1e" stroke="#1e1e1e" stroke-width="0.25" font-weight="normal" textLength="18.3" lengthAdjust="spacingAndGlyphs" >ABN</text>
<text x="160.3" y="446.6" font-size="11.34" fill="#fff" stroke="#fff" stroke-width="2" stroke-linejoin="round" font-weight="normal" textLength="20.6" lengthAdjust="spacingAndGlyphs" >W/W</text>
<text x="160.3" y="446.6" font-size="11.34" fill="#1e1e1e" stroke="#1e1e1e" stroke-width="0.25" font-weight="normal" textLength="20.6" lengthAdjust="spacingAndGlyphs" >W/W</text>
<text x="161.0" y="480.0" font-size="11.05" fill="#fff" stroke="#fff" stroke-width="2" stroke-linejoin="round" font-weight="normal" textLength="17.7" lengthAdjust="spacingAndGlyphs" >ARP</text>
<text x="161.0" y="480.0" font-size="11.05" fill="#1e1e1e" stroke="#1e1e1e" stroke-width="0.25" font-weight="normal" textLength="17.7" lengthAdjust="spacingAndGlyphs" >ARP</text>
<text x="40.0" y="518.2" font-size="10.17" fill="#fff" stroke="#fff" stroke-width="2" stroke-linejoin="round" font-weight="normal" textLength="83.8" lengthAdjust="spacingAndGlyphs" >Zuständigkeitsgrenze</text>
<text x="40.0" y="518.2" font-size="10.17" fill="#3dd03d" stroke="#3dd03d" stroke-width="0.25" font-weight="normal" textLength="83.8" lengthAdjust="spacingAndGlyphs" >Zuständigkeitsgrenze</text>
<text x="18.8" y="530.0" font-size="10.17" fill="#fff" stroke="#fff" stroke-width="2" stroke-linejoin="round" font-weight="normal" textLength="105.0" lengthAdjust="spacingAndGlyphs" >Boundary of responsibility</text>
<text x="18.8" y="530.0" font-size="10.17" fill="#3dd03d" stroke="#3dd03d" stroke-width="0.25" font-weight="normal" textLength="105.0" lengthAdjust="spacingAndGlyphs" >Boundary of responsibility</text>
<text x="238.8" y="525.5" font-size="10.17" fill="#fff" stroke="#fff" stroke-width="2" stroke-linejoin="round" font-weight="normal" textLength="40.0" lengthAdjust="spacingAndGlyphs" >72 ft GND</text>
<text x="238.8" y="525.5" font-size="10.17" fill="#1e1e1e" stroke="#1e1e1e" stroke-width="0.25" font-weight="normal" textLength="40.0" lengthAdjust="spacingAndGlyphs" >72 ft GND</text>
<text x="205.4" y="557.0" font-size="10.90" fill="#fff" stroke="#fff" stroke-width="2" stroke-linejoin="round" font-weight="normal" textLength="39.8" lengthAdjust="spacingAndGlyphs" >33 ft GND</text>
<text x="205.4" y="557.0" font-size="10.90" fill="#1e1e1e" stroke="#1e1e1e" stroke-width="0.25" font-weight="normal" textLength="39.8" lengthAdjust="spacingAndGlyphs" >33 ft GND</text>
<text x="331.0" y="528.5" font-size="10.47" fill="#fff" stroke="#fff" stroke-width="2" stroke-linejoin="round" font-weight="normal" textLength="75.2" lengthAdjust="spacingAndGlyphs" >Empfangsgebäude</text>
<text x="331.0" y="528.5" font-size="10.47" fill="#1e1e1e" stroke="#1e1e1e" stroke-width="0.25" font-weight="normal" textLength="75.2" lengthAdjust="spacingAndGlyphs" >Empfangsgebäude</text>
<text x="373.2" y="539.1" font-size="10.47" fill="#fff" stroke="#fff" stroke-width="2" stroke-linejoin="round" font-weight="normal" textLength="33.6" lengthAdjust="spacingAndGlyphs" >Terminal</text>
<text x="373.2" y="539.1" font-size="10.47" fill="#1e1e1e" stroke="#1e1e1e" stroke-width="0.25" font-weight="normal" textLength="33.6" lengthAdjust="spacingAndGlyphs" >Terminal</text>
<text x="362.0" y="499.0" font-size="9.45" fill="#fff" stroke="#fff" stroke-width="2" stroke-linejoin="round" font-weight="normal" textLength="5.5" lengthAdjust="spacingAndGlyphs" >A</text>
<text x="362.0" y="499.0" font-size="9.45" fill="#1e1e1e" stroke="#1e1e1e" stroke-width="0.25" font-weight="normal" textLength="5.5" lengthAdjust="spacingAndGlyphs" >A</text>
<text x="434.5" y="544.4" font-size="9.45" fill="#fff" stroke="#fff" stroke-width="2" stroke-linejoin="round" font-weight="normal" textLength="5.0" lengthAdjust="spacingAndGlyphs" >B</text>
<text x="434.5" y="544.4" font-size="9.45" fill="#1e1e1e" stroke="#1e1e1e" stroke-width="0.25" font-weight="normal" textLength="5.0" lengthAdjust="spacingAndGlyphs" >B</text>
<text x="505.5" y="543.5" font-size="9.45" fill="#fff" stroke="#fff" stroke-width="2" stroke-linejoin="round" font-weight="normal" textLength="5.5" lengthAdjust="spacingAndGlyphs" >C</text>
<text x="505.5" y="543.5" font-size="9.45" fill="#1e1e1e" stroke="#1e1e1e" stroke-width="0.25" font-weight="normal" textLength="5.5" lengthAdjust="spacingAndGlyphs" >C</text>
<text x="324.3" y="563.2" font-size="10.90" fill="#fff" stroke="#fff" stroke-width="2" stroke-linejoin="round" font-weight="normal" textLength="38.1" lengthAdjust="spacingAndGlyphs" >30 ft GND</text>
<text x="324.3" y="563.2" font-size="10.90" fill="#1e1e1e" stroke="#1e1e1e" stroke-width="0.25" font-weight="normal" textLength="38.1" lengthAdjust="spacingAndGlyphs" >30 ft GND</text>
<text x="367.5" y="565.3" font-size="10.90" fill="#fff" stroke="#fff" stroke-width="2" stroke-linejoin="round" font-weight="normal" textLength="39.1" lengthAdjust="spacingAndGlyphs" >33 ft GND</text>
<text x="367.5" y="565.3" font-size="10.90" fill="#1e1e1e" stroke="#1e1e1e" stroke-width="0.25" font-weight="normal" textLength="39.1" lengthAdjust="spacingAndGlyphs" >33 ft GND</text>
<text x="506.0" y="577.5" font-size="10.47" fill="#fff" stroke="#fff" stroke-width="2" stroke-linejoin="round" font-weight="normal" textLength="55.2" lengthAdjust="spacingAndGlyphs" transform="rotate(2.6 506 577.5)">Apron control</text>
<text x="506.0" y="577.5" font-size="10.47" fill="#3dd03d" stroke="#3dd03d" stroke-width="0.25" font-weight="normal" textLength="55.2" lengthAdjust="spacingAndGlyphs" transform="rotate(2.6 506 577.5)">Apron control</text>
<text x="505.0" y="611.2" font-size="10.47" fill="#fff" stroke="#fff" stroke-width="2" stroke-linejoin="round" font-weight="normal" textLength="16.0" lengthAdjust="spacingAndGlyphs" >DFS</text>
<text x="505.0" y="611.2" font-size="10.47" fill="#3dd03d" stroke="#3dd03d" stroke-width="0.25" font-weight="normal" textLength="16.0" lengthAdjust="spacingAndGlyphs" >DFS</text>
<text x="350.0" y="658.8" font-size="10.90" fill="#fff" stroke="#fff" stroke-width="2" stroke-linejoin="round" font-weight="normal" textLength="51.2" lengthAdjust="spacingAndGlyphs" >2340 x 45 m</text>
<text x="350.0" y="658.8" font-size="10.90" fill="#1e1e1e" stroke="#1e1e1e" stroke-width="0.25" font-weight="normal" textLength="51.2" lengthAdjust="spacingAndGlyphs" >2340 x 45 m</text>
<text x="58.2" y="650.0" font-size="10.17" fill="#fff" stroke="#fff" stroke-width="2" stroke-linejoin="round" font-weight="normal" textLength="23.0" lengthAdjust="spacingAndGlyphs" >172 ft</text>
<text x="58.2" y="650.0" font-size="10.17" fill="#1e1e1e" stroke="#1e1e1e" stroke-width="0.25" font-weight="normal" textLength="23.0" lengthAdjust="spacingAndGlyphs" >172 ft</text>
<text x="184.0" y="611.6" font-size="11.92" fill="#fff" stroke="#fff" stroke-width="2" stroke-linejoin="round" font-weight="normal" textLength="10.3" lengthAdjust="spacingAndGlyphs" >3°</text>
<text x="184.0" y="611.6" font-size="11.92" fill="#1e1e1e" stroke="#1e1e1e" stroke-width="0.25" font-weight="normal" textLength="10.3" lengthAdjust="spacingAndGlyphs" >3°</text>
<text x="633.7" y="679.1" font-size="12.50" fill="#fff" stroke="#fff" stroke-width="2" stroke-linejoin="round" font-weight="normal" textLength="10.3" lengthAdjust="spacingAndGlyphs" >3°</text>
<text x="633.7" y="679.1" font-size="12.50" fill="#1e1e1e" stroke="#1e1e1e" stroke-width="0.25" font-weight="normal" textLength="10.3" lengthAdjust="spacingAndGlyphs" >3°</text>
<text x="670.7" y="679.1" font-size="12.50" fill="#fff" stroke="#fff" stroke-width="2" stroke-linejoin="round" font-weight="normal" textLength="11.3" lengthAdjust="spacingAndGlyphs" >17</text>
<text x="670.7" y="679.1" font-size="12.50" fill="#1e1e1e" stroke="#1e1e1e" stroke-width="0.25" font-weight="normal" textLength="11.3" lengthAdjust="spacingAndGlyphs" >17</text>
<text x="649.1" y="516.2" font-size="10.47" fill="#fff" stroke="#fff" stroke-width="2" stroke-linejoin="round" font-weight="normal" textLength="23.9" lengthAdjust="spacingAndGlyphs" >Hallen</text>
<text x="649.1" y="516.2" font-size="10.47" fill="#1e1e1e" stroke="#1e1e1e" stroke-width="0.25" font-weight="normal" textLength="23.9" lengthAdjust="spacingAndGlyphs" >Hallen</text>
<text x="640.3" y="526.8" font-size="10.47" fill="#fff" stroke="#fff" stroke-width="2" stroke-linejoin="round" font-weight="normal" textLength="32.7" lengthAdjust="spacingAndGlyphs" >Hangars</text>
<text x="640.3" y="526.8" font-size="10.47" fill="#1e1e1e" stroke="#1e1e1e" stroke-width="0.25" font-weight="normal" textLength="32.7" lengthAdjust="spacingAndGlyphs" >Hangars</text>
<text x="613.8" y="540.0" font-size="9.45" fill="#fff" stroke="#fff" stroke-width="2" stroke-linejoin="round" font-weight="normal" textLength="3.6" lengthAdjust="spacingAndGlyphs" >1</text>
<text x="613.8" y="540.0" font-size="9.45" fill="#1e1e1e" stroke="#1e1e1e" stroke-width="0.25" font-weight="normal" textLength="3.6" lengthAdjust="spacingAndGlyphs" >1</text>
<text x="650.0" y="540.0" font-size="9.45" fill="#fff" stroke="#fff" stroke-width="2" stroke-linejoin="round" font-weight="normal" textLength="3.5" lengthAdjust="spacingAndGlyphs" >2</text>
<text x="650.0" y="540.0" font-size="9.45" fill="#1e1e1e" stroke="#1e1e1e" stroke-width="0.25" font-weight="normal" textLength="3.5" lengthAdjust="spacingAndGlyphs" >2</text>
<text x="469.0" y="913.0" font-size="11.63" fill="#fff" stroke="#fff" stroke-width="2" stroke-linejoin="round" font-weight="bold" textLength="48.5" lengthAdjust="spacingAndGlyphs" >1 : 20 000</text>
<text x="469.0" y="913.0" font-size="11.63" fill="#1e1e1e" font-weight="bold" textLength="48.5" lengthAdjust="spacingAndGlyphs" >1 : 20 000</text>
<path d="M0,903 L4,906 L4,907 L0,907 Z" fill="#222"/><path d="M676,907 L680,902 L680,907 Z" fill="#222"/>
<text x="29.0" y="911.0" font-size="10.17" fill="#fff" stroke="#fff" stroke-width="2" stroke-linejoin="round" font-weight="normal" textLength="7.0" lengthAdjust="spacingAndGlyphs" >ıll</text>
<text x="29.0" y="911.0" font-size="10.17" fill="#1e1e1e" stroke="#1e1e1e" stroke-width="0.25" font-weight="normal" textLength="7.0" lengthAdjust="spacingAndGlyphs" >ıll</text>
<text x="0" y="3.75" transform="translate(212.3,310.5) rotate(90)" font-size="10.90" fill="#111" font-weight="bold" text-anchor="middle" textLength="20.0" lengthAdjust="spacingAndGlyphs">09C</text>
<text x="0" y="3.75" transform="translate(345.6,315.6) rotate(-90)" font-size="10.90" fill="#111" font-weight="bold" text-anchor="middle" textLength="20.5" lengthAdjust="spacingAndGlyphs">27C</text>
<text x="0" y="4.00" transform="translate(474.7,240.6) rotate(-90)" font-size="11.63" fill="#111" font-weight="bold" text-anchor="middle" textLength="21.0" lengthAdjust="spacingAndGlyphs">27R</text>
<text x="0" y="4.00" transform="translate(49.7,625.3) rotate(90)" font-size="11.63" fill="#111" font-weight="bold" text-anchor="middle" textLength="20.0" lengthAdjust="spacingAndGlyphs">09R</text>
<text x="0" y="3.50" transform="translate(215.5,438.0) rotate(55)" font-size="10.17" fill="#3dd03d" font-weight="normal" text-anchor="middle" textLength="52.0" lengthAdjust="spacingAndGlyphs">Apron control</text>
<text x="0" y="3.50" transform="translate(240.3,444.0) rotate(56)" font-size="10.17" fill="#3dd03d" font-weight="normal" text-anchor="middle" textLength="20.0" lengthAdjust="spacingAndGlyphs">DFS</text>
<text x="0" y="3.50" transform="translate(507.0,314.0) rotate(-16)" font-size="10.17" fill="#3dd03d" font-weight="normal" text-anchor="middle" textLength="17.0" lengthAdjust="spacingAndGlyphs">DFS</text>
<text x="0" y="3.50" transform="translate(528.7,325.0) rotate(-17)" font-size="10.17" fill="#3dd03d" font-weight="normal" text-anchor="middle" textLength="56.0" lengthAdjust="spacingAndGlyphs">Apron control</text>
</g>
<path d="M78.0,213.5 L56.0,231.5" stroke="#444" stroke-width="1"/><path d="M56.0,231.5 L59.3,226.5 L61.6,229.2 Z" fill="#444"/>
<path d="M240.0,215.0 L254.0,239.0" stroke="#444" stroke-width="1"/><path d="M254.0,239.0 L249.6,234.9 L252.6,233.2 Z" fill="#444"/>
<path d="M264.5,695.6 L264.5,656.5" stroke="#444" stroke-width="1.1"/><path d="M264.5,656.5 L266.3,662.2 L262.7,662.2 Z" fill="#444"/>
<path d="M445.4,694.3 L463.2,659.1" stroke="#333" stroke-width="1.1"/><path d="M463.2,659.1 L462.2,665.0 L459.0,663.4 Z" fill="#333"/>
<path d="M82.0,299.0 L67.0,307.0" stroke="#222" stroke-width="0.9"/><path d="M67.0,307.0 L71.2,302.7 L72.9,305.9 Z" fill="#222"/>
<path d="M133.0,291.0 L152.0,300.0" stroke="#222" stroke-width="0.9"/><path d="M152.0,300.0 L146.1,299.1 L147.6,295.9 Z" fill="#222"/>
<path d="M160.3,347.4 L173.5,353.2" stroke="#222" stroke-width="0.9"/><path d="M173.5,353.2 L167.5,352.5 L169.0,349.3 Z" fill="#222"/>
<path d="M422.0,316.0 L434.0,339.0" stroke="#222" stroke-width="0.9"/><path d="M434.0,339.0 L429.8,334.7 L432.9,333.1 Z" fill="#222"/>
<path d="M389.0,320.0 L380.0,342.0" stroke="#222" stroke-width="0.9"/><path d="M380.0,342.0 L380.5,336.0 L383.8,337.4 Z" fill="#222"/>
<path d="M438.0,312.5 L451.0,317.0" stroke="#222" stroke-width="0.9"/><path d="M451.0,317.0 L445.0,316.8 L446.2,313.4 Z" fill="#222"/>
<path d="M173.5,344.4 L194.0,350.3" stroke="#222" stroke-width="0.9"/><path d="M194.0,350.3 L188.0,350.4 L189.0,347.0 Z" fill="#222"/>
<circle cx="14.0" cy="309.0" r="4.5" fill="#fff" stroke="#333" stroke-width="0.8"/>
<text x="14.0" y="311.5" font-size="7" fill="#333" text-anchor="middle">G</text>
<circle cx="154.0" cy="287.0" r="4.5" fill="#fff" stroke="#333" stroke-width="0.8"/>
<text x="154.0" y="289.5" font-size="7" fill="#333" text-anchor="middle">L</text>
<circle cx="210.0" cy="395.3" r="4.5" fill="#fff" stroke="#333" stroke-width="0.8"/>
<text x="210.0" y="397.8" font-size="7" fill="#333" text-anchor="middle">F</text>
<circle cx="258.8" cy="422.6" r="4.5" fill="#fff" stroke="#333" stroke-width="0.8"/>
<text x="258.8" y="425.1" font-size="7" fill="#333" text-anchor="middle">L</text>
<circle cx="269.7" cy="396.2" r="4.5" fill="#fff" stroke="#333" stroke-width="0.8"/>
<text x="269.7" y="398.7" font-size="7" fill="#333" text-anchor="middle">M</text>
<circle cx="464.5" cy="316.6" r="4.8" fill="#fff" stroke="#333" stroke-width="0.8"/>
<text x="464.5" y="319.1" font-size="7" fill="#333" text-anchor="middle">M</text>
<circle cx="554.0" cy="295.0" r="4.8" fill="#fff" stroke="#333" stroke-width="0.8"/>
<text x="554.0" y="297.5" font-size="7" fill="#333" text-anchor="middle">M</text>
<circle cx="477.0" cy="281.0" r="4.8" fill="#fff" stroke="#333" stroke-width="0.8"/>
<text x="477.0" y="283.5" font-size="7" fill="#333" text-anchor="middle">N</text>
<circle cx="427.5" cy="344.4" r="4.8" fill="#fff" stroke="#333" stroke-width="0.8"/>
<text x="427.5" y="346.9" font-size="7" fill="#333" text-anchor="middle">Q</text>
<circle cx="75.7" cy="585.0" r="4.5" fill="#fff" stroke="#333" stroke-width="0.8"/>
<text x="75.7" y="587.5" font-size="7" fill="#333" text-anchor="middle">A</text>
<circle cx="390.2" cy="593.1" r="4.5" fill="#fff" stroke="#333" stroke-width="0.8"/>
<text x="390.2" y="595.6" font-size="7" fill="#333" text-anchor="middle">A</text>
<circle cx="170.1" cy="571.6" r="4.5" fill="#fff" stroke="#333" stroke-width="0.8"/>
<text x="170.1" y="574.1" font-size="7" fill="#333" text-anchor="middle">D</text>
<circle cx="155.9" cy="604.4" r="4.5" fill="#fff" stroke="#333" stroke-width="0.8"/>
<text x="155.9" y="606.9" font-size="7" fill="#333" text-anchor="middle">D</text>
<circle cx="329.4" cy="580.7" r="4.5" fill="#fff" stroke="#333" stroke-width="0.8"/>
<text x="329.4" y="583.2" font-size="7" fill="#333" text-anchor="middle">C</text>
<circle cx="317.1" cy="614.7" r="4.5" fill="#fff" stroke="#333" stroke-width="0.8"/>
<text x="317.1" y="617.2" font-size="7" fill="#333" text-anchor="middle">C</text>
<circle cx="600.5" cy="622.7" r="4.5" fill="#fff" stroke="#333" stroke-width="0.8"/>
<text x="600.5" y="625.2" font-size="7" fill="#333" text-anchor="middle">B</text>
<rect x="281.5" y="371.1" width="14" height="8.5" rx="4.25" fill="#fff" stroke="#333" stroke-width="0.8"/>
<text x="288.5" y="377.8" font-size="7" fill="#333" text-anchor="middle">T2</text>
<rect x="356.9" y="363.7" width="15" height="9" rx="4.5" fill="#fff" stroke="#333" stroke-width="0.8"/>
<text x="364.4" y="370.7" font-size="7" fill="#333" text-anchor="middle">T4</text>
<rect x="394.0" y="350.5" width="15" height="9" rx="4.5" fill="#fff" stroke="#333" stroke-width="0.8"/>
<text x="401.5" y="357.5" font-size="7" fill="#333" text-anchor="middle">T3</text>
<rect x="448.5" y="583.1" width="16" height="9" rx="4.5" fill="#fff" stroke="#333" stroke-width="0.8"/>
<text x="456.5" y="590.1" font-size="7" fill="#333" text-anchor="middle">A2</text>
<rect x="612.3" y="590.2" width="16" height="9" rx="4.5" fill="#fff" stroke="#333" stroke-width="0.8"/>
<text x="620.3" y="597.2" font-size="7" fill="#333" text-anchor="middle">A1</text>
<circle cx="204.7" cy="363.0" r="7" fill="#fff" stroke="#222" stroke-width="1.5"/>
<text x="204.7" y="367.0" font-size="11" fill="#222" text-anchor="middle" font-weight="bold">H</text>
<circle cx="332.6" cy="369.1" r="7" fill="#fff" stroke="#222" stroke-width="1.5"/>
<text x="332.6" y="373.1" font-size="11" fill="#222" text-anchor="middle" font-weight="bold">H</text>
<circle cx="330.4" cy="593.1" r="7.5" fill="#fff" stroke="#222" stroke-width="1.5"/>
<text x="330.4" y="597.1" font-size="11" fill="#222" text-anchor="middle" font-weight="bold">H</text>
<text x="318.1" y="605.5" font-size="9.45" fill="#fff" stroke="#fff" stroke-width="2" stroke-linejoin="round" font-weight="normal" textLength="2.9" lengthAdjust="spacingAndGlyphs" >1</text>
<text x="318.1" y="605.5" font-size="9.45" fill="#1e1e1e" stroke="#1e1e1e" stroke-width="0.25" font-weight="normal" textLength="2.9" lengthAdjust="spacingAndGlyphs" >1</text>
<circle cx="155.0" cy="269.0" r="4" fill="#111"/>
<text x="155.0" y="271.2" font-size="6" fill="#fff" text-anchor="middle" font-weight="bold">1</text>
<circle cx="489.0" cy="290.0" r="4" fill="#111"/>
<text x="489.0" y="292.2" font-size="6" fill="#fff" text-anchor="middle" font-weight="bold">1</text>
<circle cx="537.5" cy="289.0" r="4" fill="#111"/>
<text x="537.5" y="291.2" font-size="6" fill="#fff" text-anchor="middle" font-weight="bold">1</text>
<circle cx="75.0" cy="602.6" r="4" fill="#111"/>
<text x="75.0" y="604.8" font-size="6" fill="#fff" text-anchor="middle" font-weight="bold">1</text>
<circle cx="176.8" cy="604.4" r="4" fill="#111"/>
<text x="176.8" y="606.6" font-size="6" fill="#fff" text-anchor="middle" font-weight="bold">1</text>
<circle cx="339.7" cy="613.7" r="4" fill="#111"/>
<text x="339.7" y="615.9" font-size="6" fill="#fff" text-anchor="middle" font-weight="bold">1</text>
<circle cx="620.4" cy="626.1" r="4" fill="#111"/>
<text x="620.4" y="628.3" font-size="6" fill="#fff" text-anchor="middle" font-weight="bold">1</text>
<rect x="386.5" y="367.4" width="6.1" height="7" fill="#111"/><text x="389.5" y="373.3" font-size="6" fill="#fff" text-anchor="middle" font-weight="bold">T</text>
<rect x="382" y="380.6" width="8.9" height="7" fill="#fff" stroke="#333" stroke-width="0.8"/><text x="386.4" y="386.4" font-size="6.5" fill="#333" text-anchor="middle">C</text>
<rect x="448.5" y="508" width="7.5" height="7.5" fill="#fff" stroke="#333" stroke-width="0.8"/><text x="452.3" y="514" font-size="6.5" fill="#333" text-anchor="middle">C</text>
<path d="M292.9,289.1 L305.9,302.1 M305.9,289.1 L292.9,302.1" stroke="#111" stroke-width="1.8"/>
<path d="M286.5,392.5 L296.5,402.5 M296.5,392.5 L286.5,402.5" stroke="#111" stroke-width="1.8"/>
<path d="M406.0,610.5 L417.0,621.5 M417.0,610.5 L406.0,621.5" stroke="#111" stroke-width="1.8"/>
<rect x="388" y="206" width="9" height="6.5" fill="#fff" stroke="#333" stroke-width="0.8"/><circle cx="392.5" cy="209.2" r="0.8" fill="#333"/>
<circle cx="405.5" cy="211.5" r="4" fill="#fff" stroke="#333" stroke-width="0.8"/><circle cx="405.5" cy="211.5" r="0.8" fill="#333"/>
<circle cx="144.5" cy="662.5" r="3.5" fill="#fff" stroke="#333" stroke-width="0.8"/><circle cx="144.5" cy="662.5" r="0.7" fill="#333"/>
<circle cx="612.5" cy="685" r="4.2" fill="#fff" stroke="#333" stroke-width="0.8"/><circle cx="612.5" cy="685" r="0.8" fill="#333"/>
<circle cx="183.8" cy="467.2" r="3.6" fill="none" stroke="#333" stroke-width="1"/><path d="M177.8,467.2 H189.8 M183.8,461.2 V473.2" stroke="#333" stroke-width="1"/>
<path d="M105,111.5 H112.5 M108.75,107.75 V115.25 M106,108.8 L111.5,114.2 M111.5,108.8 L106,114.2" stroke="#222" stroke-width="0.9"/>
<path d="M150.7,436.5 L151.8,439.2 L154.5,439.4 L152.4,441.1 L153.1,443.8 L150.7,442.3 L148.3,443.8 L149,441.1 L146.9,439.4 L149.6,439.2 Z" fill="none" stroke="#222" stroke-width="0.8"/>
<path d="M139.6,418.7 L142.6,409.7 L145.6,418.7" fill="none" stroke="#222" stroke-width="1"/><circle cx="142.6" cy="417.7" r="0.7" fill="#222"/>
<path d="M138.1,406.7 A5,5 0 0 1 147.1,406.7" fill="none" stroke="#444" stroke-width="0.8" stroke-dasharray="1,1"/>
<path d="M444.5,356 L447.5,347 L450.5,356" fill="none" stroke="#222" stroke-width="1"/><circle cx="447.5" cy="355" r="0.7" fill="#222"/>
<path d="M443.0,344 A5,5 0 0 1 452.0,344" fill="none" stroke="#444" stroke-width="0.8" stroke-dasharray="1,1"/>
<circle cx="406.3" cy="272.0" r="1.1" fill="#111"/><path d="M408.8,272.0 H417.3" stroke="#444" stroke-width="0.7"/><path d="M417.3,272.0 l-4.5,-1.1 v2.2 Z" fill="#111"/><circle cx="406.3" cy="275.3" r="1.1" fill="#111"/><path d="M408.8,275.3 H417.3" stroke="#444" stroke-width="0.7"/><path d="M417.3,275.3 l-4.5,-1.1 v2.2 Z" fill="#111"/><circle cx="406.3" cy="278.6" r="1.1" fill="#111"/><path d="M408.8,278.6 H417.3" stroke="#444" stroke-width="0.7"/><path d="M417.3,278.6 l-4.5,-1.1 v2.2 Z" fill="#111"/><circle cx="406.3" cy="281.9" r="1.1" fill="#111"/><path d="M408.8,281.9 H417.3" stroke="#444" stroke-width="0.7"/><path d="M417.3,281.9 l-4.5,-1.1 v2.2 Z" fill="#111"/>
<rect x="168.8" y="609.6" width="4.5" height="1.8" fill="#111"/><path d="M173.3,610.5 H178.8" stroke="#666" stroke-width="0.7"/><circle cx="179.3" cy="610.5" r="1" fill="#111"/><rect x="168.8" y="612.7" width="4.5" height="1.8" fill="#111"/><path d="M173.3,613.6 H178.8" stroke="#666" stroke-width="0.7"/><circle cx="179.3" cy="613.6" r="1" fill="#111"/><rect x="168.8" y="615.8" width="4.5" height="1.8" fill="#111"/><path d="M173.3,616.7 H178.8" stroke="#666" stroke-width="0.7"/><circle cx="179.3" cy="616.7" r="1" fill="#111"/><rect x="168.8" y="618.9" width="4.5" height="1.8" fill="#111"/><path d="M173.3,619.8 H178.8" stroke="#666" stroke-width="0.7"/><circle cx="179.3" cy="619.8" r="1" fill="#111"/>
<circle cx="617.5" cy="662.5" r="1.1" fill="#111"/><path d="M620.0,662.5 H628.5" stroke="#444" stroke-width="0.7"/><path d="M628.5,662.5 l-4.5,-1.1 v2.2 Z" fill="#111"/><circle cx="617.5" cy="665.8" r="1.1" fill="#111"/><path d="M620.0,665.8 H628.5" stroke="#444" stroke-width="0.7"/><path d="M628.5,665.8 l-4.5,-1.1 v2.2 Z" fill="#111"/><circle cx="617.5" cy="669.1" r="1.1" fill="#111"/><path d="M620.0,669.1 H628.5" stroke="#444" stroke-width="0.7"/><path d="M628.5,669.1 l-4.5,-1.1 v2.2 Z" fill="#111"/><circle cx="617.5" cy="672.4" r="1.1" fill="#111"/><path d="M620.0,672.4 H628.5" stroke="#444" stroke-width="0.7"/><path d="M628.5,672.4 l-4.5,-1.1 v2.2 Z" fill="#111"/>
<path d="M83,599.0 L83,604.0 L93,601.5 Z" fill="#f0f0f0" stroke="#666" stroke-width="0.7"/><path d="M93,601.5 h3" stroke="#333" stroke-width="1"/>
<path d="M83,607.0 L83,612.0 L93,609.5 Z" fill="#f0f0f0" stroke="#666" stroke-width="0.7"/><path d="M93,609.5 h3" stroke="#333" stroke-width="1"/>
<path d="M410,282.5 L410,287.5 L420,285 Z" fill="#f0f0f0" stroke="#666" stroke-width="0.7"/><path d="M420,285 h3" stroke="#333" stroke-width="1"/>
<path d="M410,289.5 L410,294.5 L420,292 Z" fill="#f0f0f0" stroke="#666" stroke-width="0.7"/><path d="M420,292 h3" stroke="#333" stroke-width="1"/>
<path d="M363.5,619.0 L363.5,624.0 L373.5,621.5 Z" fill="#f0f0f0" stroke="#666" stroke-width="0.7"/><path d="M373.5,621.5 h3" stroke="#333" stroke-width="1"/>
<path d="M626.5,622.3 L626.5,627.3 L636.5,624.8 Z" fill="#f0f0f0" stroke="#666" stroke-width="0.7"/><path d="M636.5,624.8 h3" stroke="#333" stroke-width="1"/>
<path d="M626.5,632.1 L626.5,637.1 L636.5,634.6 Z" fill="#f0f0f0" stroke="#666" stroke-width="0.7"/><path d="M636.5,634.6 h3" stroke="#333" stroke-width="1"/>
<path d="M35.5,269.5 L35.5,274.5 L45.5,272 Z" fill="#f0f0f0" stroke="#666" stroke-width="0.7"/><path d="M45.5,272 h3" stroke="#333" stroke-width="1"/>
<circle cx="146.5" cy="541.2" r="1.2" fill="#222"/>
<circle cx="146.5" cy="553.5" r="1.2" fill="#222"/>
<circle cx="244.1" cy="362.1" r="1.2" fill="#222"/><path d="M254.5,360.5 L261,360.5 L262.5,362 L261,363.5 L254.5,363.5 Z" fill="#111"/><rect x="256.5" y="361.3" width="2" height="1.4" fill="#fff"/>
<path d="M140.5,276.0 L148.5,271.0 M142.1,278.2 L150.1,273.2" stroke="#222" stroke-width="0.9"/>
<path d="M157.5,298.5 L165.5,293.5 M159.1,300.7 L167.1,295.7" stroke="#222" stroke-width="0.9"/>
<path d="M60.5,308.0 L60.5,315.5 M62.7,308.0 L62.7,315.5" stroke="#222" stroke-width="0.9"/>
<path d="M173.5,355.5 L181.0,351.0 M175.1,357.7 L182.6,353.2" stroke="#222" stroke-width="0.9"/>
<path d="M201.5,350.5 L208.5,346.0 M203.1,352.7 L210.1,348.2" stroke="#222" stroke-width="0.9"/>
<path d="M473.0,286.5 L481.0,286.5 M473.0,288.7 L481.0,288.7" stroke="#222" stroke-width="0.9"/>
<path d="M538.0,296.5 L540.0,305.0 M540.2,296.1 L542.2,304.6" stroke="#222" stroke-width="0.9"/>
<path d="M452.5,318.0 L455.5,325.0 M454.7,317.1 L457.7,324.1" stroke="#222" stroke-width="0.9"/>
<path d="M383.0,344.5 L386.0,352.0 M385.2,343.6 L388.2,351.1" stroke="#222" stroke-width="0.9"/>
<path d="M162.0,598.0 L170.0,598.0 M162.0,600.2 L170.0,600.2" stroke="#222" stroke-width="0.9"/>
<path d="M162.0,607.0 L170.0,607.0 M162.0,609.2 L170.0,609.2" stroke="#222" stroke-width="0.9"/>
<path d="M60.0,596.0 L68.0,596.0 M60.0,598.2 L68.0,598.2" stroke="#222" stroke-width="0.9"/>
<path d="M324.3,601.0 L332.0,601.0 M324.3,603.2 L332.0,603.2" stroke="#222" stroke-width="0.9"/>
<path d="M324.3,614.0 L332.0,614.0 M324.3,616.2 L332.0,616.2" stroke="#222" stroke-width="0.9"/>
<path d="M607.0,612.0 L614.5,612.0 M607.0,614.2 L614.5,614.2" stroke="#222" stroke-width="0.9"/>
<path d="M607.0,621.0 L614.5,621.0 M607.0,623.2 L614.5,623.2" stroke="#222" stroke-width="0.9"/>
<path d="M141.0,578.5 L141.0,587.5 M143.2,578.5 L143.2,587.5" stroke="#222" stroke-width="0.9"/>
<path d="M192.5,579.2 L192.5,589.2 M194.7,579.2 L194.7,589.2" stroke="#222" stroke-width="0.9"/>
</svg>
<div id="status">
  <svg width="20" height="17" style="left:3px;top:0"><rect x="0.5" y="10" width="2.5" height="2.5" fill="#d8d8d8"/><rect x="4" y="8.5" width="2.5" height="4" fill="#d8d8d8"/><rect x="7.5" y="7" width="2.5" height="5.5" fill="#d8d8d8"/><rect x="11" y="5.5" width="2.5" height="7" fill="#d8d8d8"/><rect x="14.5" y="4" width="2.5" height="8.5" fill="#d8d8d8"/></svg>
  <span style="position:absolute;left:22px;top:1px;line-height:15px;font-size:11.5px;">vodafone.de</span>
  <svg width="16" height="17" style="left:97px;top:0"><path d="M1.5,7 A9,9 0 0 1 13.5,7" stroke="#d8d8d8" stroke-width="1.8" fill="none"/><path d="M4,9.5 A5.5,5.5 0 0 1 11,9.5" stroke="#d8d8d8" stroke-width="1.8" fill="none"/><circle cx="7.5" cy="12" r="1.4" fill="#d8d8d8"/></svg>
  <span style="position:absolute;left:325px;top:1px;line-height:15px;">11:16</span>
  <span style="position:absolute;left:633px;top:1px;line-height:15px;font-size:11.5px;">61 %</span>
  <svg width="20" height="17" style="left:658px;top:0"><rect x="1" y="4" width="16" height="8.5" rx="1.5" fill="none" stroke="#d8d8d8" stroke-width="1.2"/><rect x="3" y="6" width="7" height="4.5" fill="#d8d8d8"/><rect x="17.3" y="6.5" width="1.7" height="3.5" fill="#d8d8d8"/></svg>
</div>
<div id="nav">
  <div id="title">AD 2 EDDV Hannover 3 250310.pdf</div>
  <div id="done">Done</div>
</div>
</body></html>
